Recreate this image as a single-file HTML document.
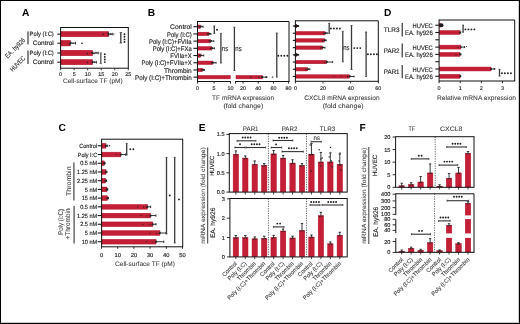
<!DOCTYPE html>
<html><head><meta charset="utf-8"><title>Figure</title>
<style>html,body{margin:0;padding:0;background:#fff;}body{width:520px;height:324px;overflow:hidden;font-family:"Liberation Sans",sans-serif;}svg{display:block;will-change:transform;}text{text-rendering:geometricPrecision;}</style>
</head><body>
<svg width="520" height="324" viewBox="0 0 520 324" font-family="Liberation Sans, sans-serif">
<rect x="0" y="0" width="520" height="324" fill="#fff"/>
<text x="22" y="16" font-size="10.2" text-anchor="start" fill="#000" font-weight="bold">A</text>
<rect x="60.85" y="31.5" width="47.6" height="5.25" fill="#c41f37" stroke="#b3142b" stroke-width="0.5"/>
<rect x="60.85" y="40.35" width="9.4" height="5.6" fill="#c41f37" stroke="#b3142b" stroke-width="0.5"/>
<rect x="60.85" y="50.25" width="31.6" height="5.5" fill="#c41f37" stroke="#b3142b" stroke-width="0.5"/>
<rect x="60.85" y="59.55" width="31.6" height="5.2" fill="#c41f37" stroke="#b3142b" stroke-width="0.5"/>
<line x1="107.7" y1="34.1" x2="112.9" y2="34.1" stroke="#222" stroke-width="0.9" stroke-linecap="butt"/>
<line x1="112.9" y1="32.8" x2="112.9" y2="35.4" stroke="#222" stroke-width="0.9" stroke-linecap="butt"/>
<line x1="108.7" y1="32.8" x2="108.7" y2="35.4" stroke="#222" stroke-width="0.9" stroke-linecap="butt"/>
<circle cx="103.1" cy="34.3" r="0.75" fill="#222"/>
<circle cx="108.2" cy="33.4" r="0.8" fill="#222"/>
<circle cx="108.6" cy="35" r="0.8" fill="#222"/>
<circle cx="110.8" cy="34.1" r="0.9" fill="#222"/>
<circle cx="113.2" cy="34.1" r="0.7" fill="#777"/>
<circle cx="114.8" cy="34.1" r="0.6" fill="#999"/>
<line x1="69.5" y1="43.2" x2="75.5" y2="43.2" stroke="#222" stroke-width="0.9" stroke-linecap="butt"/>
<line x1="75.5" y1="41.9" x2="75.5" y2="44.5" stroke="#222" stroke-width="0.9" stroke-linecap="butt"/>
<line x1="70.5" y1="41.9" x2="70.5" y2="44.5" stroke="#222" stroke-width="0.9" stroke-linecap="butt"/>
<circle cx="69.3" cy="44" r="0.8" fill="#222"/>
<circle cx="82" cy="43.4" r="0.8" fill="#222"/>
<circle cx="70.8" cy="42.4" r="0.8" fill="#222"/>
<circle cx="73" cy="43.2" r="0.7" fill="#222"/>
<line x1="91.7" y1="53" x2="98.2" y2="53" stroke="#222" stroke-width="0.9" stroke-linecap="butt"/>
<line x1="98.2" y1="51.7" x2="98.2" y2="54.3" stroke="#222" stroke-width="0.9" stroke-linecap="butt"/>
<line x1="92.7" y1="51.7" x2="92.7" y2="54.3" stroke="#222" stroke-width="0.9" stroke-linecap="butt"/>
<circle cx="94" cy="53.5" r="0.8" fill="#222"/>
<circle cx="96" cy="52.6" r="0.8" fill="#222"/>
<circle cx="87.5" cy="53.4" r="0.75" fill="#222"/>
<circle cx="92" cy="52.5" r="0.8" fill="#222"/>
<circle cx="98.2" cy="53" r="0.6" fill="#666"/>
<line x1="91.7" y1="62.2" x2="96.5" y2="62.2" stroke="#222" stroke-width="0.9" stroke-linecap="butt"/>
<line x1="96.5" y1="60.9" x2="96.5" y2="63.5" stroke="#222" stroke-width="0.9" stroke-linecap="butt"/>
<line x1="92.7" y1="60.9" x2="92.7" y2="63.5" stroke="#222" stroke-width="0.9" stroke-linecap="butt"/>
<circle cx="94.5" cy="62" r="0.8" fill="#222"/>
<circle cx="87.5" cy="62.4" r="0.75" fill="#222"/>
<circle cx="92.5" cy="61.5" r="0.8" fill="#222"/>
<circle cx="96.3" cy="62.2" r="0.6" fill="#666"/>
<rect x="60.6" y="27.5" width="67.7" height="40.7" fill="none" stroke="#111" stroke-width="1"/>
<line x1="57.3" y1="34.1" x2="60.6" y2="34.1" stroke="#1a1a1a" stroke-width="1.1" stroke-linecap="butt"/>
<line x1="57.3" y1="43.2" x2="60.6" y2="43.2" stroke="#1a1a1a" stroke-width="1.1" stroke-linecap="butt"/>
<line x1="57.3" y1="53" x2="60.6" y2="53" stroke="#1a1a1a" stroke-width="1.1" stroke-linecap="butt"/>
<line x1="57.3" y1="62.2" x2="60.6" y2="62.2" stroke="#1a1a1a" stroke-width="1.1" stroke-linecap="butt"/>
<line x1="60.6" y1="68.2" x2="60.6" y2="70.2" stroke="#1a1a1a" stroke-width="0.9" stroke-linecap="butt"/>
<text x="60.6" y="76" font-size="5.4" text-anchor="middle" fill="#231f20" stroke="#231f20" stroke-width="0.15">0</text>
<line x1="74.14" y1="68.2" x2="74.14" y2="70.2" stroke="#1a1a1a" stroke-width="0.9" stroke-linecap="butt"/>
<text x="74.14" y="76" font-size="5.4" text-anchor="middle" fill="#231f20" stroke="#231f20" stroke-width="0.15">5</text>
<line x1="87.68" y1="68.2" x2="87.68" y2="70.2" stroke="#1a1a1a" stroke-width="0.9" stroke-linecap="butt"/>
<text x="87.68" y="76" font-size="5.4" text-anchor="middle" fill="#231f20" stroke="#231f20" stroke-width="0.15">10</text>
<line x1="101.22" y1="68.2" x2="101.22" y2="70.2" stroke="#1a1a1a" stroke-width="0.9" stroke-linecap="butt"/>
<text x="101.22" y="76" font-size="5.4" text-anchor="middle" fill="#231f20" stroke="#231f20" stroke-width="0.15">15</text>
<line x1="114.76" y1="68.2" x2="114.76" y2="70.2" stroke="#1a1a1a" stroke-width="0.9" stroke-linecap="butt"/>
<text x="114.76" y="76" font-size="5.4" text-anchor="middle" fill="#231f20" stroke="#231f20" stroke-width="0.15">20</text>
<line x1="128.3" y1="68.2" x2="128.3" y2="70.2" stroke="#1a1a1a" stroke-width="0.9" stroke-linecap="butt"/>
<text x="128.3" y="76" font-size="5.4" text-anchor="middle" fill="#231f20" stroke="#231f20" stroke-width="0.15">25</text>
<text x="92.85" y="82.9" font-size="6.5" text-anchor="middle" fill="#3a3a3a" stroke="#3a3a3a" stroke-width="0.06" textLength="59.7" lengthAdjust="spacingAndGlyphs">Cell-surface TF (pM)</text>
<text x="53.8" y="36.1" font-size="6.3" text-anchor="end" fill="#231f20" stroke="#231f20" stroke-width="0.15" textLength="24.2" lengthAdjust="spacingAndGlyphs">Poly (I:C)</text>
<text x="53.8" y="45.2" font-size="6.3" text-anchor="end" fill="#231f20" stroke="#231f20" stroke-width="0.15" textLength="21" lengthAdjust="spacingAndGlyphs">Control</text>
<text x="53.8" y="55" font-size="6.3" text-anchor="end" fill="#231f20" stroke="#231f20" stroke-width="0.15" textLength="24.2" lengthAdjust="spacingAndGlyphs">Poly (I:C)</text>
<text x="53.8" y="64.2" font-size="6.3" text-anchor="end" fill="#231f20" stroke="#231f20" stroke-width="0.15" textLength="21" lengthAdjust="spacingAndGlyphs">Control</text>
<line x1="28" y1="31.5" x2="28" y2="44.5" stroke="#555" stroke-width="1.4" stroke-linecap="butt"/>
<line x1="28" y1="50.6" x2="28" y2="64" stroke="#555" stroke-width="1.4" stroke-linecap="butt"/>
<text x="25.8" y="40.6" font-size="6.8" text-anchor="end" fill="#231f20" stroke="#231f20" stroke-width="0.08" textLength="25.5" lengthAdjust="spacingAndGlyphs" transform="rotate(-45 25.8 40.6)">EA. hy926</text>
<text x="25.8" y="58.8" font-size="6.8" text-anchor="end" fill="#231f20" stroke="#231f20" stroke-width="0.08" textLength="18.5" lengthAdjust="spacingAndGlyphs" transform="rotate(-45 25.8 58.8)">HUVEC</text>
<line x1="120.8" y1="32.6" x2="120.8" y2="43" stroke="#3a3a3a" stroke-width="1.3" stroke-linecap="butt"/>
<line x1="119.6" y1="32.6" x2="122" y2="32.6" stroke="#3a3a3a" stroke-width="0.8" stroke-linecap="butt"/>
<line x1="119.6" y1="43" x2="122" y2="43" stroke="#3a3a3a" stroke-width="0.8" stroke-linecap="butt"/>
<circle cx="124.5" cy="34.2" r="0.95" fill="#222"/>
<circle cx="124.5" cy="36.8" r="0.95" fill="#222"/>
<circle cx="124.5" cy="39.4" r="0.95" fill="#222"/>
<circle cx="124.5" cy="42" r="0.95" fill="#222"/>
<line x1="100.8" y1="52.9" x2="100.8" y2="63.4" stroke="#555" stroke-width="1.3" stroke-linecap="butt"/>
<line x1="99.6" y1="52.9" x2="102" y2="52.9" stroke="#555" stroke-width="0.8" stroke-linecap="butt"/>
<line x1="99.6" y1="63.4" x2="102" y2="63.4" stroke="#555" stroke-width="0.8" stroke-linecap="butt"/>
<circle cx="104.8" cy="54.3" r="0.95" fill="#222"/>
<circle cx="104.8" cy="56.9" r="0.95" fill="#222"/>
<circle cx="104.8" cy="59.5" r="0.95" fill="#222"/>
<circle cx="104.8" cy="62.1" r="0.95" fill="#222"/>
<text x="147.8" y="16" font-size="10.2" text-anchor="start" fill="#000" font-weight="bold">B</text>
<text x="191.7" y="29.3" font-size="6.7" text-anchor="end" fill="#231f20" stroke="#231f20" stroke-width="0.15" textLength="21.6" lengthAdjust="spacingAndGlyphs">Control</text>
<text x="191.7" y="36.51" font-size="6.7" text-anchor="end" fill="#231f20" stroke="#231f20" stroke-width="0.15" textLength="24.6" lengthAdjust="spacingAndGlyphs">Poly (I:C)</text>
<text x="191.7" y="43.72" font-size="6.7" text-anchor="end" fill="#231f20" stroke="#231f20" stroke-width="0.15" textLength="42.7" lengthAdjust="spacingAndGlyphs">Poly (I:C)+FVIIa</text>
<text x="191.7" y="50.93" font-size="6.7" text-anchor="end" fill="#231f20" stroke="#231f20" stroke-width="0.15" textLength="39" lengthAdjust="spacingAndGlyphs">Poly (I:C)+FXa</text>
<text x="191.7" y="58.14" font-size="6.7" text-anchor="end" fill="#231f20" stroke="#231f20" stroke-width="0.15" textLength="21.4" lengthAdjust="spacingAndGlyphs">FVIIa+X</text>
<text x="191.7" y="65.35" font-size="6.7" text-anchor="end" fill="#231f20" stroke="#231f20" stroke-width="0.15" textLength="50.3" lengthAdjust="spacingAndGlyphs">Poly (I:C)+FVIIa+X</text>
<text x="191.7" y="72.56" font-size="6.7" text-anchor="end" fill="#231f20" stroke="#231f20" stroke-width="0.15" textLength="27.6" lengthAdjust="spacingAndGlyphs">Thrombin</text>
<text x="191.7" y="79.77" font-size="6.7" text-anchor="end" fill="#231f20" stroke="#231f20" stroke-width="0.15" textLength="56.7" lengthAdjust="spacingAndGlyphs">Poly (I:C)+Thrombin</text>
<rect x="197.75" y="25" width="2.56" height="3.4" fill="#c41f37" stroke="#b3142b" stroke-width="0.5"/>
<rect x="197.75" y="32.21" width="11.12" height="3.4" fill="#c41f37" stroke="#b3142b" stroke-width="0.5"/>
<rect x="197.75" y="39.42" width="12.76" height="3.4" fill="#c41f37" stroke="#b3142b" stroke-width="0.5"/>
<rect x="197.75" y="46.63" width="14.08" height="3.4" fill="#c41f37" stroke="#b3142b" stroke-width="0.5"/>
<rect x="197.75" y="53.84" width="2.89" height="3.4" fill="#c41f37" stroke="#b3142b" stroke-width="0.5"/>
<rect x="197.75" y="61.05" width="15.06" height="3.4" fill="#c41f37" stroke="#b3142b" stroke-width="0.5"/>
<rect x="197.75" y="68.26" width="4.86" height="3.4" fill="#c41f37" stroke="#b3142b" stroke-width="0.5"/>
<rect x="197.75" y="75.47" width="32.5" height="3.4" fill="#c41f37" stroke="#b3142b" stroke-width="0.5"/>
<rect x="236.05" y="75.47" width="26.5" height="3.4" fill="#c41f37" stroke="#b3142b" stroke-width="0.5"/>
<line x1="199.56" y1="26.7" x2="203.06" y2="26.7" stroke="#222" stroke-width="0.9" stroke-linecap="butt"/>
<line x1="203.06" y1="25.7" x2="203.06" y2="27.7" stroke="#222" stroke-width="0.9" stroke-linecap="butt"/>
<line x1="200.56" y1="25.7" x2="200.56" y2="27.7" stroke="#222" stroke-width="0.9" stroke-linecap="butt"/>
<circle cx="199.06" cy="26.7" r="0.8" fill="#222"/>
<circle cx="201.16" cy="26.4" r="0.8" fill="#222"/>
<line x1="208.12" y1="33.91" x2="210.92" y2="33.91" stroke="#222" stroke-width="0.9" stroke-linecap="butt"/>
<line x1="210.92" y1="32.91" x2="210.92" y2="34.91" stroke="#222" stroke-width="0.9" stroke-linecap="butt"/>
<line x1="209.12" y1="32.91" x2="209.12" y2="34.91" stroke="#222" stroke-width="0.9" stroke-linecap="butt"/>
<circle cx="207.62" cy="33.91" r="0.8" fill="#222"/>
<circle cx="209.72" cy="33.61" r="0.8" fill="#222"/>
<line x1="209.76" y1="41.12" x2="213.76" y2="41.12" stroke="#222" stroke-width="0.9" stroke-linecap="butt"/>
<line x1="213.76" y1="40.12" x2="213.76" y2="42.12" stroke="#222" stroke-width="0.9" stroke-linecap="butt"/>
<line x1="210.76" y1="40.12" x2="210.76" y2="42.12" stroke="#222" stroke-width="0.9" stroke-linecap="butt"/>
<circle cx="209.26" cy="41.12" r="0.8" fill="#222"/>
<circle cx="211.36" cy="40.82" r="0.8" fill="#222"/>
<line x1="211.08" y1="48.33" x2="214.58" y2="48.33" stroke="#222" stroke-width="0.9" stroke-linecap="butt"/>
<line x1="214.58" y1="47.33" x2="214.58" y2="49.33" stroke="#222" stroke-width="0.9" stroke-linecap="butt"/>
<line x1="212.08" y1="47.33" x2="212.08" y2="49.33" stroke="#222" stroke-width="0.9" stroke-linecap="butt"/>
<circle cx="210.58" cy="48.33" r="0.8" fill="#222"/>
<circle cx="212.68" cy="48.03" r="0.8" fill="#222"/>
<line x1="199.89" y1="55.54" x2="203.69" y2="55.54" stroke="#222" stroke-width="0.9" stroke-linecap="butt"/>
<line x1="203.69" y1="54.54" x2="203.69" y2="56.54" stroke="#222" stroke-width="0.9" stroke-linecap="butt"/>
<line x1="200.89" y1="54.54" x2="200.89" y2="56.54" stroke="#222" stroke-width="0.9" stroke-linecap="butt"/>
<circle cx="199.39" cy="55.54" r="0.8" fill="#222"/>
<circle cx="201.49" cy="55.24" r="0.8" fill="#222"/>
<line x1="212.06" y1="62.75" x2="216.06" y2="62.75" stroke="#222" stroke-width="0.9" stroke-linecap="butt"/>
<line x1="216.06" y1="61.75" x2="216.06" y2="63.75" stroke="#222" stroke-width="0.9" stroke-linecap="butt"/>
<line x1="213.06" y1="61.75" x2="213.06" y2="63.75" stroke="#222" stroke-width="0.9" stroke-linecap="butt"/>
<circle cx="211.56" cy="62.75" r="0.8" fill="#222"/>
<circle cx="213.66" cy="62.45" r="0.8" fill="#222"/>
<line x1="201.86" y1="69.96" x2="204.36" y2="69.96" stroke="#222" stroke-width="0.9" stroke-linecap="butt"/>
<line x1="204.36" y1="68.96" x2="204.36" y2="70.96" stroke="#222" stroke-width="0.9" stroke-linecap="butt"/>
<line x1="202.86" y1="68.96" x2="202.86" y2="70.96" stroke="#222" stroke-width="0.9" stroke-linecap="butt"/>
<circle cx="201.36" cy="69.96" r="0.8" fill="#222"/>
<circle cx="203.46" cy="69.66" r="0.8" fill="#222"/>
<line x1="261.8" y1="77.17" x2="266.8" y2="77.17" stroke="#222" stroke-width="0.9" stroke-linecap="butt"/>
<line x1="266.8" y1="76.17" x2="266.8" y2="78.17" stroke="#222" stroke-width="0.9" stroke-linecap="butt"/>
<line x1="262.8" y1="76.17" x2="262.8" y2="78.17" stroke="#222" stroke-width="0.9" stroke-linecap="butt"/>
<circle cx="250.7" cy="77.17" r="0.75" fill="#222"/>
<circle cx="258.7" cy="77.17" r="0.75" fill="#222"/>
<circle cx="261.8" cy="77.17" r="0.8" fill="#222"/>
<circle cx="266" cy="77.17" r="0.8" fill="#222"/>
<line x1="271.5" y1="77.17" x2="273.5" y2="77.17" stroke="#444" stroke-width="0.6" stroke-linecap="butt"/>
<line x1="272.5" y1="76.17" x2="272.5" y2="78.17" stroke="#444" stroke-width="0.6" stroke-linecap="butt"/>
<line x1="197.5" y1="21.5" x2="289" y2="21.5" stroke="#111" stroke-width="1" stroke-linecap="butt"/>
<line x1="289" y1="21.5" x2="289" y2="81.5" stroke="#111" stroke-width="1" stroke-linecap="butt"/>
<line x1="197.5" y1="21" x2="197.5" y2="82" stroke="#111" stroke-width="1" stroke-linecap="butt"/>
<line x1="197.5" y1="81.5" x2="230.8" y2="81.5" stroke="#111" stroke-width="1" stroke-linecap="butt"/>
<line x1="235.3" y1="81.5" x2="289.5" y2="81.5" stroke="#111" stroke-width="1" stroke-linecap="butt"/>
<line x1="193.4" y1="26.7" x2="197.5" y2="26.7" stroke="#1a1a1a" stroke-width="1.1" stroke-linecap="butt"/>
<line x1="193.4" y1="33.91" x2="197.5" y2="33.91" stroke="#1a1a1a" stroke-width="1.1" stroke-linecap="butt"/>
<line x1="193.4" y1="41.12" x2="197.5" y2="41.12" stroke="#1a1a1a" stroke-width="1.1" stroke-linecap="butt"/>
<line x1="193.4" y1="48.33" x2="197.5" y2="48.33" stroke="#1a1a1a" stroke-width="1.1" stroke-linecap="butt"/>
<line x1="193.4" y1="55.54" x2="197.5" y2="55.54" stroke="#1a1a1a" stroke-width="1.1" stroke-linecap="butt"/>
<line x1="193.4" y1="62.75" x2="197.5" y2="62.75" stroke="#1a1a1a" stroke-width="1.1" stroke-linecap="butt"/>
<line x1="193.4" y1="69.96" x2="197.5" y2="69.96" stroke="#1a1a1a" stroke-width="1.1" stroke-linecap="butt"/>
<line x1="193.4" y1="77.17" x2="197.5" y2="77.17" stroke="#1a1a1a" stroke-width="1.1" stroke-linecap="butt"/>
<line x1="197.6" y1="81.5" x2="197.6" y2="83.6" stroke="#1a1a1a" stroke-width="0.9" stroke-linecap="butt"/>
<text x="197.6" y="89.9" font-size="5.4" text-anchor="middle" fill="#231f20" stroke="#231f20" stroke-width="0.15">0</text>
<line x1="214.05" y1="81.5" x2="214.05" y2="83.6" stroke="#1a1a1a" stroke-width="0.9" stroke-linecap="butt"/>
<text x="214.05" y="89.9" font-size="5.4" text-anchor="middle" fill="#231f20" stroke="#231f20" stroke-width="0.15">5</text>
<line x1="230.5" y1="81.5" x2="230.5" y2="83.6" stroke="#1a1a1a" stroke-width="0.9" stroke-linecap="butt"/>
<text x="230.5" y="89.9" font-size="5.4" text-anchor="middle" fill="#231f20" stroke="#231f20" stroke-width="0.15">10</text>
<line x1="235.5" y1="81.5" x2="235.5" y2="83.6" stroke="#1a1a1a" stroke-width="0.9" stroke-linecap="butt"/>
<line x1="243.09" y1="81.5" x2="243.09" y2="83.6" stroke="#1a1a1a" stroke-width="0.9" stroke-linecap="butt"/>
<text x="243.09" y="89.9" font-size="5.4" text-anchor="middle" fill="#231f20" stroke="#231f20" stroke-width="0.15">20</text>
<line x1="258.26" y1="81.5" x2="258.26" y2="83.6" stroke="#1a1a1a" stroke-width="0.9" stroke-linecap="butt"/>
<text x="258.26" y="89.9" font-size="5.4" text-anchor="middle" fill="#231f20" stroke="#231f20" stroke-width="0.15">40</text>
<line x1="273.43" y1="81.5" x2="273.43" y2="83.6" stroke="#1a1a1a" stroke-width="0.9" stroke-linecap="butt"/>
<text x="273.43" y="89.9" font-size="5.4" text-anchor="middle" fill="#231f20" stroke="#231f20" stroke-width="0.15">60</text>
<line x1="288.6" y1="81.5" x2="288.6" y2="83.6" stroke="#1a1a1a" stroke-width="0.9" stroke-linecap="butt"/>
<text x="288.6" y="89.9" font-size="5.4" text-anchor="middle" fill="#231f20" stroke="#231f20" stroke-width="0.15">80</text>
<text x="243.1" y="100.2" font-size="6.6" text-anchor="middle" fill="#3a3a3a" stroke="#3a3a3a" stroke-width="0.06" textLength="62" lengthAdjust="spacingAndGlyphs">TF mRNA expression</text>
<text x="243.3" y="107.8" font-size="6.6" text-anchor="middle" fill="#3a3a3a" stroke="#3a3a3a" stroke-width="0.06" textLength="39.8" lengthAdjust="spacingAndGlyphs">(fold change)</text>
<line x1="214.3" y1="26" x2="214.3" y2="33.4" stroke="#3a3a3a" stroke-width="1.3" stroke-linecap="butt"/>
<line x1="213.3" y1="26" x2="215.3" y2="26" stroke="#3a3a3a" stroke-width="0.8" stroke-linecap="butt"/>
<line x1="213.3" y1="33.4" x2="215.3" y2="33.4" stroke="#3a3a3a" stroke-width="0.8" stroke-linecap="butt"/>
<circle cx="217" cy="29.7" r="1" fill="#222"/>
<line x1="220.9" y1="33.4" x2="220.9" y2="63" stroke="#3a3a3a" stroke-width="1.3" stroke-linecap="butt"/>
<line x1="219.9" y1="33.4" x2="221.9" y2="33.4" stroke="#3a3a3a" stroke-width="0.8" stroke-linecap="butt"/>
<line x1="219.9" y1="63" x2="221.9" y2="63" stroke="#3a3a3a" stroke-width="0.8" stroke-linecap="butt"/>
<text x="221.8" y="50.8" font-size="7.4" text-anchor="start" fill="#231f20" stroke="#231f20" stroke-width="0.1" textLength="6.4" lengthAdjust="spacingAndGlyphs">ns</text>
<line x1="234.4" y1="27.2" x2="234.4" y2="70.5" stroke="#3a3a3a" stroke-width="1.3" stroke-linecap="butt"/>
<line x1="233.4" y1="27.2" x2="235.4" y2="27.2" stroke="#3a3a3a" stroke-width="0.8" stroke-linecap="butt"/>
<line x1="233.4" y1="70.5" x2="235.4" y2="70.5" stroke="#3a3a3a" stroke-width="0.8" stroke-linecap="butt"/>
<text x="235.3" y="50.8" font-size="7.4" text-anchor="start" fill="#231f20" stroke="#231f20" stroke-width="0.1" textLength="6.4" lengthAdjust="spacingAndGlyphs">ns</text>
<line x1="276.8" y1="33" x2="276.8" y2="77.1" stroke="#3a3a3a" stroke-width="1.3" stroke-linecap="butt"/>
<line x1="275.8" y1="33" x2="277.8" y2="33" stroke="#3a3a3a" stroke-width="0.8" stroke-linecap="butt"/>
<line x1="275.8" y1="77.1" x2="277.8" y2="77.1" stroke="#3a3a3a" stroke-width="0.8" stroke-linecap="butt"/>
<circle cx="278.3" cy="55.8" r="0.95" fill="#222"/>
<circle cx="281.3" cy="55.8" r="0.95" fill="#222"/>
<circle cx="284.3" cy="55.8" r="0.95" fill="#222"/>
<circle cx="287.3" cy="55.8" r="0.95" fill="#222"/>
<rect x="295.65" y="24.3" width="0.88" height="3.4" fill="#c41f37" stroke="#b3142b" stroke-width="0.5"/>
<rect x="295.65" y="31.51" width="29.34" height="3.4" fill="#c41f37" stroke="#b3142b" stroke-width="0.5"/>
<rect x="295.65" y="38.72" width="28.65" height="3.4" fill="#c41f37" stroke="#b3142b" stroke-width="0.5"/>
<rect x="295.65" y="45.93" width="26.58" height="3.4" fill="#c41f37" stroke="#b3142b" stroke-width="0.5"/>
<rect x="295.65" y="53.14" width="0.74" height="3.4" fill="#c41f37" stroke="#b3142b" stroke-width="0.5"/>
<rect x="295.65" y="60.35" width="30.73" height="3.4" fill="#c41f37" stroke="#b3142b" stroke-width="0.5"/>
<rect x="295.65" y="67.56" width="11.94" height="3.4" fill="#c41f37" stroke="#b3142b" stroke-width="0.5"/>
<rect x="295.65" y="74.77" width="53.66" height="3.4" fill="#c41f37" stroke="#b3142b" stroke-width="0.5"/>
<line x1="295.78" y1="26" x2="298.58" y2="26" stroke="#222" stroke-width="0.9" stroke-linecap="butt"/>
<line x1="298.58" y1="25" x2="298.58" y2="27" stroke="#222" stroke-width="0.9" stroke-linecap="butt"/>
<line x1="296.78" y1="25" x2="296.78" y2="27" stroke="#222" stroke-width="0.9" stroke-linecap="butt"/>
<circle cx="294.78" cy="26.3" r="0.7" fill="#222"/>
<circle cx="297.38" cy="25.7" r="0.8" fill="#222"/>
<line x1="324.24" y1="33.21" x2="327.24" y2="33.21" stroke="#222" stroke-width="0.9" stroke-linecap="butt"/>
<line x1="327.24" y1="32.21" x2="327.24" y2="34.21" stroke="#222" stroke-width="0.9" stroke-linecap="butt"/>
<line x1="325.24" y1="32.21" x2="325.24" y2="34.21" stroke="#222" stroke-width="0.9" stroke-linecap="butt"/>
<circle cx="323.24" cy="33.51" r="0.7" fill="#222"/>
<circle cx="325.84" cy="32.91" r="0.8" fill="#222"/>
<line x1="323.55" y1="40.42" x2="326.15" y2="40.42" stroke="#222" stroke-width="0.9" stroke-linecap="butt"/>
<line x1="326.15" y1="39.42" x2="326.15" y2="41.42" stroke="#222" stroke-width="0.9" stroke-linecap="butt"/>
<line x1="324.55" y1="39.42" x2="324.55" y2="41.42" stroke="#222" stroke-width="0.9" stroke-linecap="butt"/>
<circle cx="322.55" cy="40.72" r="0.7" fill="#222"/>
<circle cx="325.15" cy="40.12" r="0.8" fill="#222"/>
<line x1="321.48" y1="47.63" x2="324.98" y2="47.63" stroke="#222" stroke-width="0.9" stroke-linecap="butt"/>
<line x1="324.98" y1="46.63" x2="324.98" y2="48.63" stroke="#222" stroke-width="0.9" stroke-linecap="butt"/>
<line x1="322.48" y1="46.63" x2="322.48" y2="48.63" stroke="#222" stroke-width="0.9" stroke-linecap="butt"/>
<circle cx="320.48" cy="47.93" r="0.7" fill="#222"/>
<circle cx="323.08" cy="47.33" r="0.8" fill="#222"/>
<line x1="295.64" y1="54.84" x2="298.64" y2="54.84" stroke="#222" stroke-width="0.9" stroke-linecap="butt"/>
<line x1="298.64" y1="53.84" x2="298.64" y2="55.84" stroke="#222" stroke-width="0.9" stroke-linecap="butt"/>
<line x1="296.64" y1="53.84" x2="296.64" y2="55.84" stroke="#222" stroke-width="0.9" stroke-linecap="butt"/>
<circle cx="294.64" cy="55.14" r="0.7" fill="#222"/>
<circle cx="297.24" cy="54.54" r="0.8" fill="#222"/>
<line x1="325.63" y1="62.05" x2="332.63" y2="62.05" stroke="#222" stroke-width="0.9" stroke-linecap="butt"/>
<line x1="332.63" y1="61.05" x2="332.63" y2="63.05" stroke="#222" stroke-width="0.9" stroke-linecap="butt"/>
<line x1="326.63" y1="61.05" x2="326.63" y2="63.05" stroke="#222" stroke-width="0.9" stroke-linecap="butt"/>
<circle cx="324.63" cy="62.35" r="0.7" fill="#222"/>
<circle cx="327.23" cy="61.75" r="0.8" fill="#222"/>
<line x1="306.83" y1="69.26" x2="309.83" y2="69.26" stroke="#222" stroke-width="0.9" stroke-linecap="butt"/>
<line x1="309.83" y1="68.26" x2="309.83" y2="70.26" stroke="#222" stroke-width="0.9" stroke-linecap="butt"/>
<line x1="307.83" y1="68.26" x2="307.83" y2="70.26" stroke="#222" stroke-width="0.9" stroke-linecap="butt"/>
<circle cx="305.83" cy="69.56" r="0.7" fill="#222"/>
<circle cx="308.44" cy="68.96" r="0.8" fill="#222"/>
<line x1="348.56" y1="76.47" x2="354.06" y2="76.47" stroke="#222" stroke-width="0.9" stroke-linecap="butt"/>
<line x1="354.06" y1="75.47" x2="354.06" y2="77.47" stroke="#222" stroke-width="0.9" stroke-linecap="butt"/>
<line x1="349.56" y1="75.47" x2="349.56" y2="77.47" stroke="#222" stroke-width="0.9" stroke-linecap="butt"/>
<circle cx="347.56" cy="76.77" r="0.7" fill="#222"/>
<circle cx="350.16" cy="76.17" r="0.8" fill="#222"/>
<circle cx="334.09" cy="76.47" r="0.55" fill="#222"/>
<circle cx="341" cy="76.47" r="0.55" fill="#222"/>
<path d="M295.6 24.1 l3.6 1.9 l-3.6 1.9z" fill="#1a1a1a"/>
<path d="M295.6 53.04 l3.2 1.8 l-3.2 1.8z" fill="#1a1a1a"/>
<line x1="295.4" y1="20.8" x2="378.3" y2="20.8" stroke="#111" stroke-width="1" stroke-linecap="butt"/>
<line x1="378.3" y1="20.8" x2="378.3" y2="81.3" stroke="#111" stroke-width="1" stroke-linecap="butt"/>
<line x1="295.4" y1="20.3" x2="295.4" y2="81.8" stroke="#111" stroke-width="1" stroke-linecap="butt"/>
<line x1="295.4" y1="81.3" x2="378.8" y2="81.3" stroke="#111" stroke-width="1" stroke-linecap="butt"/>
<line x1="292.8" y1="26" x2="295.4" y2="26" stroke="#1a1a1a" stroke-width="1.1" stroke-linecap="butt"/>
<line x1="292.8" y1="33.21" x2="295.4" y2="33.21" stroke="#1a1a1a" stroke-width="1.1" stroke-linecap="butt"/>
<line x1="292.8" y1="40.42" x2="295.4" y2="40.42" stroke="#1a1a1a" stroke-width="1.1" stroke-linecap="butt"/>
<line x1="292.8" y1="47.63" x2="295.4" y2="47.63" stroke="#1a1a1a" stroke-width="1.1" stroke-linecap="butt"/>
<line x1="292.8" y1="54.84" x2="295.4" y2="54.84" stroke="#1a1a1a" stroke-width="1.1" stroke-linecap="butt"/>
<line x1="292.8" y1="62.05" x2="295.4" y2="62.05" stroke="#1a1a1a" stroke-width="1.1" stroke-linecap="butt"/>
<line x1="292.8" y1="69.26" x2="295.4" y2="69.26" stroke="#1a1a1a" stroke-width="1.1" stroke-linecap="butt"/>
<line x1="292.8" y1="76.47" x2="295.4" y2="76.47" stroke="#1a1a1a" stroke-width="1.1" stroke-linecap="butt"/>
<line x1="295.4" y1="81.3" x2="295.4" y2="83.4" stroke="#1a1a1a" stroke-width="0.9" stroke-linecap="butt"/>
<text x="295.4" y="89.9" font-size="5.4" text-anchor="middle" fill="#231f20" stroke="#231f20" stroke-width="0.15">0</text>
<line x1="323.03" y1="81.3" x2="323.03" y2="83.4" stroke="#1a1a1a" stroke-width="0.9" stroke-linecap="butt"/>
<text x="323.03" y="89.9" font-size="5.4" text-anchor="middle" fill="#231f20" stroke="#231f20" stroke-width="0.15">20</text>
<line x1="350.67" y1="81.3" x2="350.67" y2="83.4" stroke="#1a1a1a" stroke-width="0.9" stroke-linecap="butt"/>
<text x="350.67" y="89.9" font-size="5.4" text-anchor="middle" fill="#231f20" stroke="#231f20" stroke-width="0.15">40</text>
<line x1="378.3" y1="81.3" x2="378.3" y2="83.4" stroke="#1a1a1a" stroke-width="0.9" stroke-linecap="butt"/>
<text x="378.3" y="89.9" font-size="5.4" text-anchor="middle" fill="#231f20" stroke="#231f20" stroke-width="0.15">60</text>
<text x="341.9" y="99.8" font-size="6.6" text-anchor="middle" fill="#3a3a3a" stroke="#3a3a3a" stroke-width="0.06" textLength="75.4" lengthAdjust="spacingAndGlyphs">CXCL8 mRNA expression</text>
<text x="343.15" y="107.8" font-size="6.6" text-anchor="middle" fill="#3a3a3a" stroke="#3a3a3a" stroke-width="0.06" textLength="41" lengthAdjust="spacingAndGlyphs">(fold change)</text>
<line x1="329.2" y1="23.3" x2="329.2" y2="33.3" stroke="#3a3a3a" stroke-width="1.3" stroke-linecap="butt"/>
<line x1="328.2" y1="23.3" x2="330.2" y2="23.3" stroke="#3a3a3a" stroke-width="0.8" stroke-linecap="butt"/>
<line x1="328.2" y1="33.3" x2="330.2" y2="33.3" stroke="#3a3a3a" stroke-width="0.8" stroke-linecap="butt"/>
<circle cx="330.9" cy="28.5" r="0.95" fill="#222"/>
<circle cx="333.9" cy="28.5" r="0.95" fill="#222"/>
<circle cx="336.9" cy="28.5" r="0.95" fill="#222"/>
<circle cx="339.9" cy="28.5" r="0.95" fill="#222"/>
<line x1="342.8" y1="31.4" x2="342.8" y2="61.8" stroke="#3a3a3a" stroke-width="1.3" stroke-linecap="butt"/>
<line x1="341.8" y1="31.4" x2="343.8" y2="31.4" stroke="#3a3a3a" stroke-width="0.8" stroke-linecap="butt"/>
<line x1="341.8" y1="61.8" x2="343.8" y2="61.8" stroke="#3a3a3a" stroke-width="0.8" stroke-linecap="butt"/>
<text x="343.3" y="49.8" font-size="7.4" text-anchor="start" fill="#231f20" stroke="#231f20" stroke-width="0.1" textLength="6.3" lengthAdjust="spacingAndGlyphs">ns</text>
<line x1="351.5" y1="25.5" x2="351.5" y2="69.5" stroke="#3a3a3a" stroke-width="1.3" stroke-linecap="butt"/>
<line x1="350.5" y1="25.5" x2="352.5" y2="25.5" stroke="#3a3a3a" stroke-width="0.8" stroke-linecap="butt"/>
<line x1="350.5" y1="69.5" x2="352.5" y2="69.5" stroke="#3a3a3a" stroke-width="0.8" stroke-linecap="butt"/>
<circle cx="354.3" cy="48.1" r="0.95" fill="#222"/>
<circle cx="357.3" cy="48.1" r="0.95" fill="#222"/>
<circle cx="360.3" cy="48.1" r="0.95" fill="#222"/>
<line x1="366.1" y1="32" x2="366.1" y2="76.5" stroke="#3a3a3a" stroke-width="1.3" stroke-linecap="butt"/>
<line x1="365.1" y1="32" x2="367.1" y2="32" stroke="#3a3a3a" stroke-width="0.8" stroke-linecap="butt"/>
<line x1="365.1" y1="76.5" x2="367.1" y2="76.5" stroke="#3a3a3a" stroke-width="0.8" stroke-linecap="butt"/>
<circle cx="367.9" cy="54.3" r="0.95" fill="#222"/>
<circle cx="370.9" cy="54.3" r="0.95" fill="#222"/>
<circle cx="373.9" cy="54.3" r="0.95" fill="#222"/>
<circle cx="376.9" cy="54.3" r="0.95" fill="#222"/>
<text x="384" y="15.6" font-size="10.2" text-anchor="start" fill="#000" font-weight="bold">D</text>
<rect x="439.35" y="23.25" width="1.19" height="3.9" fill="#c41f37" stroke="#b3142b" stroke-width="0.5"/>
<rect x="439.35" y="30.55" width="20.63" height="3.9" fill="#c41f37" stroke="#b3142b" stroke-width="0.5"/>
<rect x="439.35" y="45.15" width="21.48" height="3.9" fill="#c41f37" stroke="#b3142b" stroke-width="0.5"/>
<rect x="439.35" y="52.45" width="20.63" height="3.9" fill="#c41f37" stroke="#b3142b" stroke-width="0.5"/>
<rect x="439.35" y="67.05" width="51.69" height="3.9" fill="#c41f37" stroke="#b3142b" stroke-width="0.5"/>
<rect x="439.35" y="74.35" width="20.63" height="3.9" fill="#c41f37" stroke="#b3142b" stroke-width="0.5"/>
<line x1="439.79" y1="25.2" x2="441.79" y2="25.2" stroke="#222" stroke-width="0.9" stroke-linecap="butt"/>
<line x1="441.79" y1="24.2" x2="441.79" y2="26.2" stroke="#222" stroke-width="0.9" stroke-linecap="butt"/>
<line x1="440.79" y1="24.2" x2="440.79" y2="26.2" stroke="#222" stroke-width="0.9" stroke-linecap="butt"/>
<ellipse cx="441.4" cy="25.2" rx="2.1" ry="2.0" fill="#1a1a1a"/>
<line x1="459.23" y1="32.5" x2="460.73" y2="32.5" stroke="#222" stroke-width="0.9" stroke-linecap="butt"/>
<line x1="460.73" y1="31.5" x2="460.73" y2="33.5" stroke="#222" stroke-width="0.9" stroke-linecap="butt"/>
<line x1="460.23" y1="31.5" x2="460.23" y2="33.5" stroke="#222" stroke-width="0.9" stroke-linecap="butt"/>
<circle cx="459.73" cy="32.5" r="0.8" fill="#222"/>
<line x1="460.08" y1="47.1" x2="464.58" y2="47.1" stroke="#222" stroke-width="0.9" stroke-linecap="butt"/>
<line x1="464.58" y1="46.1" x2="464.58" y2="48.1" stroke="#222" stroke-width="0.9" stroke-linecap="butt"/>
<line x1="461.08" y1="46.1" x2="461.08" y2="48.1" stroke="#222" stroke-width="0.9" stroke-linecap="butt"/>
<circle cx="464.46" cy="47.1" r="0.6" fill="#222"/>
<circle cx="466.57" cy="46.6" r="0.6" fill="#222"/>
<circle cx="458.12" cy="47.5" r="0.6" fill="#222"/>
<line x1="459.23" y1="54.4" x2="461.03" y2="54.4" stroke="#222" stroke-width="0.9" stroke-linecap="butt"/>
<line x1="461.03" y1="53.4" x2="461.03" y2="55.4" stroke="#222" stroke-width="0.9" stroke-linecap="butt"/>
<line x1="460.23" y1="53.4" x2="460.23" y2="55.4" stroke="#222" stroke-width="0.9" stroke-linecap="butt"/>
<circle cx="456" cy="54.9" r="0.6" fill="#222"/>
<circle cx="460.23" cy="54.4" r="0.8" fill="#222"/>
<line x1="490.29" y1="69" x2="494.79" y2="69" stroke="#222" stroke-width="0.9" stroke-linecap="butt"/>
<line x1="494.79" y1="68" x2="494.79" y2="70" stroke="#222" stroke-width="0.9" stroke-linecap="butt"/>
<line x1="491.29" y1="68" x2="491.29" y2="70" stroke="#222" stroke-width="0.9" stroke-linecap="butt"/>
<circle cx="491.29" cy="69" r="0.8" fill="#222"/>
<circle cx="494.04" cy="68.5" r="0.6" fill="#222"/>
<line x1="459.23" y1="76.3" x2="460.73" y2="76.3" stroke="#222" stroke-width="0.9" stroke-linecap="butt"/>
<line x1="460.73" y1="75.3" x2="460.73" y2="77.3" stroke="#222" stroke-width="0.9" stroke-linecap="butt"/>
<line x1="460.23" y1="75.3" x2="460.23" y2="77.3" stroke="#222" stroke-width="0.9" stroke-linecap="butt"/>
<circle cx="460.23" cy="76.3" r="0.8" fill="#222"/>
<line x1="439.1" y1="20" x2="514.7" y2="20" stroke="#111" stroke-width="1" stroke-linecap="butt"/>
<line x1="514.7" y1="20" x2="514.7" y2="81" stroke="#111" stroke-width="1" stroke-linecap="butt"/>
<line x1="439.1" y1="19.5" x2="439.1" y2="81.5" stroke="#111" stroke-width="1" stroke-linecap="butt"/>
<line x1="439.1" y1="81" x2="515.2" y2="81" stroke="#111" stroke-width="1" stroke-linecap="butt"/>
<line x1="435.3" y1="25.2" x2="439.1" y2="25.2" stroke="#1a1a1a" stroke-width="1.1" stroke-linecap="butt"/>
<line x1="435.3" y1="32.5" x2="439.1" y2="32.5" stroke="#1a1a1a" stroke-width="1.1" stroke-linecap="butt"/>
<line x1="435.3" y1="39.8" x2="439.1" y2="39.8" stroke="#1a1a1a" stroke-width="1.1" stroke-linecap="butt"/>
<line x1="435.3" y1="47.1" x2="439.1" y2="47.1" stroke="#1a1a1a" stroke-width="1.1" stroke-linecap="butt"/>
<line x1="435.3" y1="54.4" x2="439.1" y2="54.4" stroke="#1a1a1a" stroke-width="1.1" stroke-linecap="butt"/>
<line x1="435.3" y1="61.7" x2="439.1" y2="61.7" stroke="#1a1a1a" stroke-width="1.1" stroke-linecap="butt"/>
<line x1="435.3" y1="69" x2="439.1" y2="69" stroke="#1a1a1a" stroke-width="1.1" stroke-linecap="butt"/>
<line x1="435.3" y1="76.3" x2="439.1" y2="76.3" stroke="#1a1a1a" stroke-width="1.1" stroke-linecap="butt"/>
<line x1="439.1" y1="81" x2="439.1" y2="83.2" stroke="#1a1a1a" stroke-width="0.9" stroke-linecap="butt"/>
<text x="439.1" y="89.9" font-size="5.4" text-anchor="middle" fill="#231f20" stroke="#231f20" stroke-width="0.15">0</text>
<line x1="460.23" y1="81" x2="460.23" y2="83.2" stroke="#1a1a1a" stroke-width="0.9" stroke-linecap="butt"/>
<text x="460.23" y="89.9" font-size="5.4" text-anchor="middle" fill="#231f20" stroke="#231f20" stroke-width="0.15">1</text>
<line x1="481.36" y1="81" x2="481.36" y2="83.2" stroke="#1a1a1a" stroke-width="0.9" stroke-linecap="butt"/>
<text x="481.36" y="89.9" font-size="5.4" text-anchor="middle" fill="#231f20" stroke="#231f20" stroke-width="0.15">2</text>
<line x1="502.49" y1="81" x2="502.49" y2="83.2" stroke="#1a1a1a" stroke-width="0.9" stroke-linecap="butt"/>
<text x="502.49" y="89.9" font-size="5.4" text-anchor="middle" fill="#231f20" stroke="#231f20" stroke-width="0.15">3</text>
<text x="476.45" y="99.8" font-size="6.6" text-anchor="middle" fill="#3a3a3a" stroke="#3a3a3a" stroke-width="0.06" textLength="79" lengthAdjust="spacingAndGlyphs">Relative mRNA expression</text>
<text x="432.8" y="28" font-size="6.5" text-anchor="end" fill="#231f20" stroke="#231f20" stroke-width="0.15" textLength="20.2" lengthAdjust="spacingAndGlyphs">HUVEC</text>
<text x="432.8" y="35.3" font-size="6.5" text-anchor="end" fill="#231f20" stroke="#231f20" stroke-width="0.15" textLength="27.8" lengthAdjust="spacingAndGlyphs">EA. hy926</text>
<text x="432.8" y="49.9" font-size="6.5" text-anchor="end" fill="#231f20" stroke="#231f20" stroke-width="0.15" textLength="20.2" lengthAdjust="spacingAndGlyphs">HUVEC</text>
<text x="432.8" y="57.2" font-size="6.5" text-anchor="end" fill="#231f20" stroke="#231f20" stroke-width="0.15" textLength="27.8" lengthAdjust="spacingAndGlyphs">EA. hy926</text>
<text x="432.8" y="71.8" font-size="6.5" text-anchor="end" fill="#231f20" stroke="#231f20" stroke-width="0.15" textLength="20.2" lengthAdjust="spacingAndGlyphs">HUVEC</text>
<text x="432.8" y="79.1" font-size="6.5" text-anchor="end" fill="#231f20" stroke="#231f20" stroke-width="0.15" textLength="27.8" lengthAdjust="spacingAndGlyphs">EA. hy926</text>
<text x="399.6" y="31.9" font-size="6.6" text-anchor="end" fill="#231f20" stroke="#231f20" stroke-width="0.15" textLength="15.8" lengthAdjust="spacingAndGlyphs">TLR3</text>
<text x="399.6" y="53.3" font-size="6.6" text-anchor="end" fill="#231f20" stroke="#231f20" stroke-width="0.15" textLength="15.8" lengthAdjust="spacingAndGlyphs">PAR2</text>
<text x="399.6" y="74.4" font-size="6.6" text-anchor="end" fill="#231f20" stroke="#231f20" stroke-width="0.15" textLength="15.8" lengthAdjust="spacingAndGlyphs">PAR1</text>
<line x1="402.2" y1="22.9" x2="402.2" y2="36.4" stroke="#222" stroke-width="1.1" stroke-linecap="butt"/>
<line x1="402.2" y1="43.6" x2="402.2" y2="57.4" stroke="#222" stroke-width="1.1" stroke-linecap="butt"/>
<line x1="402.2" y1="65" x2="402.2" y2="78.3" stroke="#222" stroke-width="1.1" stroke-linecap="butt"/>
<line x1="463.1" y1="25.1" x2="463.1" y2="32.2" stroke="#3a3a3a" stroke-width="1.3" stroke-linecap="butt"/>
<line x1="462.1" y1="25.1" x2="464.1" y2="25.1" stroke="#3a3a3a" stroke-width="0.8" stroke-linecap="butt"/>
<line x1="462.1" y1="32.2" x2="464.1" y2="32.2" stroke="#3a3a3a" stroke-width="0.8" stroke-linecap="butt"/>
<circle cx="465.4" cy="29.4" r="0.95" fill="#222"/>
<circle cx="468.4" cy="29.4" r="0.95" fill="#222"/>
<circle cx="471.4" cy="29.4" r="0.95" fill="#222"/>
<circle cx="474.4" cy="29.4" r="0.95" fill="#222"/>
<line x1="499.5" y1="69.3" x2="499.5" y2="76.1" stroke="#3a3a3a" stroke-width="1.3" stroke-linecap="butt"/>
<line x1="498.5" y1="69.3" x2="500.5" y2="69.3" stroke="#3a3a3a" stroke-width="0.8" stroke-linecap="butt"/>
<line x1="498.5" y1="76.1" x2="500.5" y2="76.1" stroke="#3a3a3a" stroke-width="0.8" stroke-linecap="butt"/>
<circle cx="501.9" cy="73.2" r="0.95" fill="#222"/>
<circle cx="504.9" cy="73.2" r="0.95" fill="#222"/>
<circle cx="507.9" cy="73.2" r="0.95" fill="#222"/>
<circle cx="510.9" cy="73.2" r="0.95" fill="#222"/>
<text x="58.5" y="131.1" font-size="10.2" text-anchor="start" fill="#000" font-weight="bold">C</text>
<rect x="101.85" y="143.45" width="4.1" height="4.7" fill="#c41f37" stroke="#b3142b" stroke-width="0.5"/>
<rect x="101.85" y="152.17" width="19" height="4.7" fill="#c41f37" stroke="#b3142b" stroke-width="0.5"/>
<rect x="101.85" y="160.89" width="2.48" height="4.7" fill="#c41f37" stroke="#b3142b" stroke-width="0.5"/>
<rect x="101.85" y="169.61" width="4.1" height="4.7" fill="#c41f37" stroke="#b3142b" stroke-width="0.5"/>
<rect x="101.85" y="178.33" width="3.77" height="4.7" fill="#c41f37" stroke="#b3142b" stroke-width="0.5"/>
<rect x="101.85" y="187.05" width="5.07" height="4.7" fill="#c41f37" stroke="#b3142b" stroke-width="0.5"/>
<rect x="101.85" y="195.77" width="5.72" height="4.7" fill="#c41f37" stroke="#b3142b" stroke-width="0.5"/>
<rect x="101.85" y="204.49" width="45.57" height="4.7" fill="#c41f37" stroke="#b3142b" stroke-width="0.5"/>
<rect x="101.85" y="213.21" width="48.81" height="4.7" fill="#c41f37" stroke="#b3142b" stroke-width="0.5"/>
<rect x="101.85" y="221.93" width="50.92" height="4.7" fill="#c41f37" stroke="#b3142b" stroke-width="0.5"/>
<rect x="101.85" y="230.65" width="58.04" height="4.7" fill="#c41f37" stroke="#b3142b" stroke-width="0.5"/>
<rect x="101.85" y="239.37" width="54.16" height="4.7" fill="#c41f37" stroke="#b3142b" stroke-width="0.5"/>
<line x1="105.2" y1="145.8" x2="107.7" y2="145.8" stroke="#222" stroke-width="0.9" stroke-linecap="butt"/>
<line x1="107.7" y1="144.6" x2="107.7" y2="147" stroke="#222" stroke-width="0.9" stroke-linecap="butt"/>
<line x1="106.2" y1="144.6" x2="106.2" y2="147" stroke="#222" stroke-width="0.9" stroke-linecap="butt"/>
<circle cx="105.4" cy="146.1" r="0.8" fill="#222"/>
<line x1="120.1" y1="154.52" x2="125.6" y2="154.52" stroke="#222" stroke-width="0.9" stroke-linecap="butt"/>
<line x1="125.6" y1="153.32" x2="125.6" y2="155.72" stroke="#222" stroke-width="0.9" stroke-linecap="butt"/>
<line x1="121.1" y1="153.32" x2="121.1" y2="155.72" stroke="#222" stroke-width="0.9" stroke-linecap="butt"/>
<circle cx="120.3" cy="154.82" r="0.8" fill="#222"/>
<line x1="103.58" y1="163.24" x2="105.08" y2="163.24" stroke="#222" stroke-width="0.9" stroke-linecap="butt"/>
<line x1="105.08" y1="162.04" x2="105.08" y2="164.44" stroke="#222" stroke-width="0.9" stroke-linecap="butt"/>
<line x1="104.58" y1="162.04" x2="104.58" y2="164.44" stroke="#222" stroke-width="0.9" stroke-linecap="butt"/>
<circle cx="103.78" cy="163.54" r="0.8" fill="#222"/>
<line x1="105.2" y1="171.96" x2="107" y2="171.96" stroke="#222" stroke-width="0.9" stroke-linecap="butt"/>
<line x1="107" y1="170.76" x2="107" y2="173.16" stroke="#222" stroke-width="0.9" stroke-linecap="butt"/>
<line x1="106.2" y1="170.76" x2="106.2" y2="173.16" stroke="#222" stroke-width="0.9" stroke-linecap="butt"/>
<circle cx="105.4" cy="172.26" r="0.8" fill="#222"/>
<line x1="104.87" y1="180.68" x2="106.37" y2="180.68" stroke="#222" stroke-width="0.9" stroke-linecap="butt"/>
<line x1="106.37" y1="179.48" x2="106.37" y2="181.88" stroke="#222" stroke-width="0.9" stroke-linecap="butt"/>
<line x1="105.87" y1="179.48" x2="105.87" y2="181.88" stroke="#222" stroke-width="0.9" stroke-linecap="butt"/>
<circle cx="105.07" cy="180.98" r="0.8" fill="#222"/>
<line x1="106.17" y1="189.4" x2="107.77" y2="189.4" stroke="#222" stroke-width="0.9" stroke-linecap="butt"/>
<line x1="107.77" y1="188.2" x2="107.77" y2="190.6" stroke="#222" stroke-width="0.9" stroke-linecap="butt"/>
<line x1="107.17" y1="188.2" x2="107.17" y2="190.6" stroke="#222" stroke-width="0.9" stroke-linecap="butt"/>
<circle cx="106.37" cy="189.7" r="0.8" fill="#222"/>
<line x1="106.82" y1="198.12" x2="108.42" y2="198.12" stroke="#222" stroke-width="0.9" stroke-linecap="butt"/>
<line x1="108.42" y1="196.92" x2="108.42" y2="199.32" stroke="#222" stroke-width="0.9" stroke-linecap="butt"/>
<line x1="107.82" y1="196.92" x2="107.82" y2="199.32" stroke="#222" stroke-width="0.9" stroke-linecap="butt"/>
<circle cx="107.02" cy="198.42" r="0.8" fill="#222"/>
<line x1="146.67" y1="206.84" x2="150.67" y2="206.84" stroke="#222" stroke-width="0.9" stroke-linecap="butt"/>
<line x1="150.67" y1="205.64" x2="150.67" y2="208.04" stroke="#222" stroke-width="0.9" stroke-linecap="butt"/>
<line x1="147.67" y1="205.64" x2="147.67" y2="208.04" stroke="#222" stroke-width="0.9" stroke-linecap="butt"/>
<circle cx="146.87" cy="207.14" r="0.8" fill="#222"/>
<line x1="149.91" y1="215.56" x2="155.91" y2="215.56" stroke="#222" stroke-width="0.9" stroke-linecap="butt"/>
<line x1="155.91" y1="214.36" x2="155.91" y2="216.76" stroke="#222" stroke-width="0.9" stroke-linecap="butt"/>
<line x1="150.91" y1="214.36" x2="150.91" y2="216.76" stroke="#222" stroke-width="0.9" stroke-linecap="butt"/>
<circle cx="150.11" cy="215.86" r="0.8" fill="#222"/>
<line x1="152.02" y1="224.28" x2="156.02" y2="224.28" stroke="#222" stroke-width="0.9" stroke-linecap="butt"/>
<line x1="156.02" y1="223.08" x2="156.02" y2="225.48" stroke="#222" stroke-width="0.9" stroke-linecap="butt"/>
<line x1="153.02" y1="223.08" x2="153.02" y2="225.48" stroke="#222" stroke-width="0.9" stroke-linecap="butt"/>
<circle cx="152.22" cy="224.58" r="0.8" fill="#222"/>
<line x1="159.14" y1="233" x2="166.14" y2="233" stroke="#222" stroke-width="0.9" stroke-linecap="butt"/>
<line x1="166.14" y1="231.8" x2="166.14" y2="234.2" stroke="#222" stroke-width="0.9" stroke-linecap="butt"/>
<line x1="160.14" y1="231.8" x2="160.14" y2="234.2" stroke="#222" stroke-width="0.9" stroke-linecap="butt"/>
<circle cx="159.34" cy="233.3" r="0.8" fill="#222"/>
<line x1="155.26" y1="241.72" x2="163.76" y2="241.72" stroke="#222" stroke-width="0.9" stroke-linecap="butt"/>
<line x1="163.76" y1="240.52" x2="163.76" y2="242.92" stroke="#222" stroke-width="0.9" stroke-linecap="butt"/>
<line x1="156.26" y1="240.52" x2="156.26" y2="242.92" stroke="#222" stroke-width="0.9" stroke-linecap="butt"/>
<circle cx="155.46" cy="242.02" r="0.8" fill="#222"/>
<circle cx="137.67" cy="206.84" r="0.6" fill="#222"/>
<circle cx="143.67" cy="207.14" r="0.6" fill="#222"/>
<circle cx="140.91" cy="215.56" r="0.6" fill="#222"/>
<circle cx="146.91" cy="215.86" r="0.6" fill="#222"/>
<circle cx="143.02" cy="224.28" r="0.6" fill="#222"/>
<circle cx="149.02" cy="224.58" r="0.6" fill="#222"/>
<circle cx="150.14" cy="233" r="0.6" fill="#222"/>
<circle cx="156.14" cy="233.3" r="0.6" fill="#222"/>
<circle cx="146.26" cy="241.72" r="0.6" fill="#222"/>
<circle cx="152.26" cy="242.02" r="0.6" fill="#222"/>
<circle cx="109.6" cy="145.8" r="0.7" fill="#222"/>
<circle cx="116.08" cy="154.52" r="0.6" fill="#222"/>
<rect x="101.6" y="139.2" width="81.1" height="107.6" fill="none" stroke="#111" stroke-width="1"/>
<line x1="97.7" y1="145.8" x2="101.6" y2="145.8" stroke="#1a1a1a" stroke-width="1.1" stroke-linecap="butt"/>
<line x1="97.7" y1="154.52" x2="101.6" y2="154.52" stroke="#1a1a1a" stroke-width="1.1" stroke-linecap="butt"/>
<line x1="97.7" y1="163.24" x2="101.6" y2="163.24" stroke="#1a1a1a" stroke-width="1.1" stroke-linecap="butt"/>
<line x1="97.7" y1="171.96" x2="101.6" y2="171.96" stroke="#1a1a1a" stroke-width="1.1" stroke-linecap="butt"/>
<line x1="97.7" y1="180.68" x2="101.6" y2="180.68" stroke="#1a1a1a" stroke-width="1.1" stroke-linecap="butt"/>
<line x1="97.7" y1="189.4" x2="101.6" y2="189.4" stroke="#1a1a1a" stroke-width="1.1" stroke-linecap="butt"/>
<line x1="97.7" y1="198.12" x2="101.6" y2="198.12" stroke="#1a1a1a" stroke-width="1.1" stroke-linecap="butt"/>
<line x1="97.7" y1="206.84" x2="101.6" y2="206.84" stroke="#1a1a1a" stroke-width="1.1" stroke-linecap="butt"/>
<line x1="97.7" y1="215.56" x2="101.6" y2="215.56" stroke="#1a1a1a" stroke-width="1.1" stroke-linecap="butt"/>
<line x1="97.7" y1="224.28" x2="101.6" y2="224.28" stroke="#1a1a1a" stroke-width="1.1" stroke-linecap="butt"/>
<line x1="97.7" y1="233" x2="101.6" y2="233" stroke="#1a1a1a" stroke-width="1.1" stroke-linecap="butt"/>
<line x1="97.7" y1="241.72" x2="101.6" y2="241.72" stroke="#1a1a1a" stroke-width="1.1" stroke-linecap="butt"/>
<line x1="101.5" y1="246.8" x2="101.5" y2="248.8" stroke="#1a1a1a" stroke-width="0.9" stroke-linecap="butt"/>
<text x="101.5" y="256.8" font-size="5.8" text-anchor="middle" fill="#231f20" stroke="#231f20" stroke-width="0.15">0</text>
<line x1="117.7" y1="246.8" x2="117.7" y2="248.8" stroke="#1a1a1a" stroke-width="0.9" stroke-linecap="butt"/>
<text x="117.7" y="256.8" font-size="5.8" text-anchor="middle" fill="#231f20" stroke="#231f20" stroke-width="0.15">10</text>
<line x1="133.9" y1="246.8" x2="133.9" y2="248.8" stroke="#1a1a1a" stroke-width="0.9" stroke-linecap="butt"/>
<text x="133.9" y="256.8" font-size="5.8" text-anchor="middle" fill="#231f20" stroke="#231f20" stroke-width="0.15">20</text>
<line x1="150.1" y1="246.8" x2="150.1" y2="248.8" stroke="#1a1a1a" stroke-width="0.9" stroke-linecap="butt"/>
<text x="150.1" y="256.8" font-size="5.8" text-anchor="middle" fill="#231f20" stroke="#231f20" stroke-width="0.15">30</text>
<line x1="166.3" y1="246.8" x2="166.3" y2="248.8" stroke="#1a1a1a" stroke-width="0.9" stroke-linecap="butt"/>
<text x="166.3" y="256.8" font-size="5.8" text-anchor="middle" fill="#231f20" stroke="#231f20" stroke-width="0.15">40</text>
<line x1="182.5" y1="246.8" x2="182.5" y2="248.8" stroke="#1a1a1a" stroke-width="0.9" stroke-linecap="butt"/>
<text x="182.5" y="256.8" font-size="5.8" text-anchor="middle" fill="#231f20" stroke="#231f20" stroke-width="0.15">50</text>
<text x="145" y="265.6" font-size="6.5" text-anchor="middle" fill="#3a3a3a" stroke="#3a3a3a" stroke-width="0.06" textLength="59.8" lengthAdjust="spacingAndGlyphs">Cell-surface TF (pM)</text>
<text x="97.2" y="148" font-size="6" text-anchor="end" fill="#231f20" stroke="#231f20" stroke-width="0.15" textLength="17.99" lengthAdjust="spacingAndGlyphs">Control</text>
<text x="97.2" y="156.72" font-size="6" text-anchor="end" fill="#231f20" stroke="#231f20" stroke-width="0.15" textLength="19.54" lengthAdjust="spacingAndGlyphs">Poly I:C</text>
<text x="97.2" y="165.44" font-size="6" text-anchor="end" fill="#231f20" stroke="#231f20" stroke-width="0.15" textLength="17.06" lengthAdjust="spacingAndGlyphs">0.5 nM</text>
<text x="97.2" y="174.16" font-size="6" text-anchor="end" fill="#231f20" stroke="#231f20" stroke-width="0.15" textLength="20.16" lengthAdjust="spacingAndGlyphs">1.25 nM</text>
<text x="97.2" y="182.88" font-size="6" text-anchor="end" fill="#231f20" stroke="#231f20" stroke-width="0.15" textLength="20.16" lengthAdjust="spacingAndGlyphs">2.25 nM</text>
<text x="97.2" y="191.6" font-size="6" text-anchor="end" fill="#231f20" stroke="#231f20" stroke-width="0.15" textLength="12.4" lengthAdjust="spacingAndGlyphs">5 nM</text>
<text x="97.2" y="200.32" font-size="6" text-anchor="end" fill="#231f20" stroke="#231f20" stroke-width="0.15" textLength="15.51" lengthAdjust="spacingAndGlyphs">15 nM</text>
<text x="97.2" y="209.04" font-size="6" text-anchor="end" fill="#231f20" stroke="#231f20" stroke-width="0.15" textLength="17.06" lengthAdjust="spacingAndGlyphs">0.5 nM</text>
<text x="97.2" y="217.76" font-size="6" text-anchor="end" fill="#231f20" stroke="#231f20" stroke-width="0.15" textLength="20.16" lengthAdjust="spacingAndGlyphs">1.25 nM</text>
<text x="97.2" y="226.48" font-size="6" text-anchor="end" fill="#231f20" stroke="#231f20" stroke-width="0.15" textLength="17.06" lengthAdjust="spacingAndGlyphs">2.5 nM</text>
<text x="97.2" y="235.2" font-size="6" text-anchor="end" fill="#231f20" stroke="#231f20" stroke-width="0.15" textLength="12.4" lengthAdjust="spacingAndGlyphs">5 nM</text>
<text x="97.2" y="243.92" font-size="6" text-anchor="end" fill="#231f20" stroke="#231f20" stroke-width="0.15" textLength="15.51" lengthAdjust="spacingAndGlyphs">10 nM</text>
<line x1="73.9" y1="162.4" x2="73.9" y2="200.4" stroke="#444" stroke-width="1.2" stroke-linecap="butt"/>
<line x1="74.1" y1="206.1" x2="74.1" y2="243.5" stroke="#444" stroke-width="1.2" stroke-linecap="butt"/>
<text x="70.6" y="181.2" font-size="6.6" text-anchor="middle" fill="#333" stroke="#333" stroke-width="0.08" textLength="29.5" lengthAdjust="spacingAndGlyphs" transform="rotate(-90 70.6 181.2)">Thrombin</text>
<text x="63.4" y="222" font-size="6.8" text-anchor="middle" fill="#333" stroke="#333" stroke-width="0.08" textLength="26" lengthAdjust="spacingAndGlyphs" transform="rotate(-90 63.4 222)">Poly (I:C)</text>
<text x="69.7" y="224" font-size="6.6" text-anchor="middle" fill="#333" stroke="#333" stroke-width="0.08" textLength="31" lengthAdjust="spacingAndGlyphs" transform="rotate(-90 69.7 224)">+Thrombin</text>
<line x1="126.7" y1="143.5" x2="126.7" y2="155" stroke="#3a3a3a" stroke-width="1.3" stroke-linecap="butt"/>
<line x1="125.7" y1="143.5" x2="127.7" y2="143.5" stroke="#3a3a3a" stroke-width="0.8" stroke-linecap="butt"/>
<line x1="125.7" y1="155" x2="127.7" y2="155" stroke="#3a3a3a" stroke-width="0.8" stroke-linecap="butt"/>
<circle cx="130.3" cy="149.2" r="0.95" fill="#222"/>
<circle cx="133.3" cy="149.2" r="0.95" fill="#222"/>
<line x1="166.5" y1="157.4" x2="166.5" y2="233.9" stroke="#3a3a3a" stroke-width="1.3" stroke-linecap="butt"/>
<line x1="165.5" y1="157.4" x2="167.5" y2="157.4" stroke="#3a3a3a" stroke-width="0.8" stroke-linecap="butt"/>
<line x1="165.5" y1="233.9" x2="167.5" y2="233.9" stroke="#3a3a3a" stroke-width="0.8" stroke-linecap="butt"/>
<circle cx="169.8" cy="195.5" r="0.95" fill="#222"/>
<line x1="174.7" y1="157.4" x2="174.7" y2="243" stroke="#3a3a3a" stroke-width="1.3" stroke-linecap="butt"/>
<line x1="173.7" y1="157.4" x2="175.7" y2="157.4" stroke="#3a3a3a" stroke-width="0.8" stroke-linecap="butt"/>
<line x1="173.7" y1="243" x2="175.7" y2="243" stroke="#3a3a3a" stroke-width="0.8" stroke-linecap="butt"/>
<circle cx="179" cy="199.4" r="0.95" fill="#222"/>
<text x="198.7" y="131.2" font-size="10.2" text-anchor="start" fill="#000" font-weight="bold">E</text>
<rect x="233.15" y="154.26" width="5.4" height="37.59" fill="#c41f37" stroke="#b3142b" stroke-width="0.5"/>
<rect x="233.15" y="237.59" width="5.4" height="19.06" fill="#c41f37" stroke="#b3142b" stroke-width="0.5"/>
<line x1="235.85" y1="155.01" x2="235.85" y2="150.91" stroke="#222" stroke-width="0.9" stroke-linecap="butt"/>
<line x1="234.65" y1="150.91" x2="237.05" y2="150.91" stroke="#222" stroke-width="0.9" stroke-linecap="butt"/>
<line x1="235.85" y1="238.34" x2="235.85" y2="235.57" stroke="#222" stroke-width="0.9" stroke-linecap="butt"/>
<line x1="234.65" y1="235.57" x2="237.05" y2="235.57" stroke="#222" stroke-width="0.9" stroke-linecap="butt"/>
<circle cx="234.65" cy="155.01" r="0.6" fill="#222"/>
<circle cx="237.05" cy="154.61" r="0.6" fill="#222"/>
<circle cx="234.65" cy="238.34" r="0.6" fill="#222"/>
<circle cx="237.05" cy="237.94" r="0.6" fill="#222"/>
<rect x="242.6" y="158.11" width="5.4" height="33.74" fill="#c41f37" stroke="#b3142b" stroke-width="0.5"/>
<rect x="242.6" y="237.59" width="5.4" height="19.06" fill="#c41f37" stroke="#b3142b" stroke-width="0.5"/>
<line x1="245.3" y1="158.86" x2="245.3" y2="155.91" stroke="#222" stroke-width="0.9" stroke-linecap="butt"/>
<line x1="244.1" y1="155.91" x2="246.5" y2="155.91" stroke="#222" stroke-width="0.9" stroke-linecap="butt"/>
<line x1="245.3" y1="238.34" x2="245.3" y2="235.57" stroke="#222" stroke-width="0.9" stroke-linecap="butt"/>
<line x1="244.1" y1="235.57" x2="246.5" y2="235.57" stroke="#222" stroke-width="0.9" stroke-linecap="butt"/>
<circle cx="244.1" cy="158.86" r="0.6" fill="#222"/>
<circle cx="246.5" cy="158.46" r="0.6" fill="#222"/>
<circle cx="244.1" cy="238.34" r="0.6" fill="#222"/>
<circle cx="246.5" cy="237.94" r="0.6" fill="#222"/>
<rect x="252.05" y="164.27" width="5.4" height="27.58" fill="#c41f37" stroke="#b3142b" stroke-width="0.5"/>
<rect x="252.05" y="238.75" width="5.4" height="17.9" fill="#c41f37" stroke="#b3142b" stroke-width="0.5"/>
<line x1="254.75" y1="165.02" x2="254.75" y2="160.91" stroke="#222" stroke-width="0.9" stroke-linecap="butt"/>
<line x1="253.55" y1="160.91" x2="255.95" y2="160.91" stroke="#222" stroke-width="0.9" stroke-linecap="butt"/>
<line x1="254.75" y1="239.5" x2="254.75" y2="236.92" stroke="#222" stroke-width="0.9" stroke-linecap="butt"/>
<line x1="253.55" y1="236.92" x2="255.95" y2="236.92" stroke="#222" stroke-width="0.9" stroke-linecap="butt"/>
<circle cx="253.55" cy="165.02" r="0.6" fill="#222"/>
<circle cx="255.95" cy="164.62" r="0.6" fill="#222"/>
<circle cx="253.55" cy="239.5" r="0.6" fill="#222"/>
<circle cx="255.95" cy="239.1" r="0.6" fill="#222"/>
<rect x="261.5" y="165.42" width="5.4" height="26.43" fill="#c41f37" stroke="#b3142b" stroke-width="0.5"/>
<rect x="261.5" y="238.36" width="5.4" height="18.29" fill="#c41f37" stroke="#b3142b" stroke-width="0.5"/>
<line x1="264.2" y1="166.17" x2="264.2" y2="163.6" stroke="#222" stroke-width="0.9" stroke-linecap="butt"/>
<line x1="263" y1="163.6" x2="265.4" y2="163.6" stroke="#222" stroke-width="0.9" stroke-linecap="butt"/>
<line x1="264.2" y1="239.11" x2="264.2" y2="236.15" stroke="#222" stroke-width="0.9" stroke-linecap="butt"/>
<line x1="263" y1="236.15" x2="265.4" y2="236.15" stroke="#222" stroke-width="0.9" stroke-linecap="butt"/>
<circle cx="263" cy="166.17" r="0.6" fill="#222"/>
<circle cx="265.4" cy="165.77" r="0.6" fill="#222"/>
<circle cx="263" cy="239.11" r="0.6" fill="#222"/>
<circle cx="265.4" cy="238.71" r="0.6" fill="#222"/>
<rect x="270.95" y="153.88" width="5.4" height="37.97" fill="#c41f37" stroke="#b3142b" stroke-width="0.5"/>
<rect x="270.95" y="237.39" width="5.4" height="19.26" fill="#c41f37" stroke="#b3142b" stroke-width="0.5"/>
<line x1="273.65" y1="154.63" x2="273.65" y2="150.52" stroke="#222" stroke-width="0.9" stroke-linecap="butt"/>
<line x1="272.45" y1="150.52" x2="274.85" y2="150.52" stroke="#222" stroke-width="0.9" stroke-linecap="butt"/>
<line x1="273.65" y1="238.14" x2="273.65" y2="235.37" stroke="#222" stroke-width="0.9" stroke-linecap="butt"/>
<line x1="272.45" y1="235.37" x2="274.85" y2="235.37" stroke="#222" stroke-width="0.9" stroke-linecap="butt"/>
<circle cx="272.45" cy="154.63" r="0.6" fill="#222"/>
<circle cx="274.85" cy="154.23" r="0.6" fill="#222"/>
<circle cx="272.45" cy="238.14" r="0.6" fill="#222"/>
<circle cx="274.85" cy="237.74" r="0.6" fill="#222"/>
<rect x="280.4" y="158.11" width="5.4" height="33.74" fill="#c41f37" stroke="#b3142b" stroke-width="0.5"/>
<rect x="280.4" y="231" width="5.4" height="25.65" fill="#c41f37" stroke="#b3142b" stroke-width="0.5"/>
<line x1="283.1" y1="158.86" x2="283.1" y2="155.52" stroke="#222" stroke-width="0.9" stroke-linecap="butt"/>
<line x1="281.9" y1="155.52" x2="284.3" y2="155.52" stroke="#222" stroke-width="0.9" stroke-linecap="butt"/>
<line x1="283.1" y1="231.75" x2="283.1" y2="228.98" stroke="#222" stroke-width="0.9" stroke-linecap="butt"/>
<line x1="281.9" y1="228.98" x2="284.3" y2="228.98" stroke="#222" stroke-width="0.9" stroke-linecap="butt"/>
<circle cx="281.9" cy="158.86" r="0.6" fill="#222"/>
<circle cx="284.3" cy="158.46" r="0.6" fill="#222"/>
<circle cx="281.9" cy="231.75" r="0.6" fill="#222"/>
<circle cx="284.3" cy="231.35" r="0.6" fill="#222"/>
<rect x="289.85" y="163.11" width="5.4" height="28.74" fill="#c41f37" stroke="#b3142b" stroke-width="0.5"/>
<rect x="289.85" y="237.97" width="5.4" height="18.68" fill="#c41f37" stroke="#b3142b" stroke-width="0.5"/>
<line x1="292.55" y1="163.86" x2="292.55" y2="159.75" stroke="#222" stroke-width="0.9" stroke-linecap="butt"/>
<line x1="291.35" y1="159.75" x2="293.75" y2="159.75" stroke="#222" stroke-width="0.9" stroke-linecap="butt"/>
<line x1="292.55" y1="238.72" x2="292.55" y2="236.15" stroke="#222" stroke-width="0.9" stroke-linecap="butt"/>
<line x1="291.35" y1="236.15" x2="293.75" y2="236.15" stroke="#222" stroke-width="0.9" stroke-linecap="butt"/>
<circle cx="291.35" cy="163.86" r="0.6" fill="#222"/>
<circle cx="293.75" cy="163.46" r="0.6" fill="#222"/>
<circle cx="291.35" cy="238.72" r="0.6" fill="#222"/>
<circle cx="293.75" cy="238.32" r="0.6" fill="#222"/>
<rect x="299.3" y="165.42" width="5.4" height="26.43" fill="#c41f37" stroke="#b3142b" stroke-width="0.5"/>
<rect x="299.3" y="230.42" width="5.4" height="26.23" fill="#c41f37" stroke="#b3142b" stroke-width="0.5"/>
<line x1="302" y1="166.17" x2="302" y2="163.6" stroke="#222" stroke-width="0.9" stroke-linecap="butt"/>
<line x1="300.8" y1="163.6" x2="303.2" y2="163.6" stroke="#222" stroke-width="0.9" stroke-linecap="butt"/>
<line x1="302" y1="231.17" x2="302" y2="223.56" stroke="#222" stroke-width="0.9" stroke-linecap="butt"/>
<line x1="300.8" y1="223.56" x2="303.2" y2="223.56" stroke="#222" stroke-width="0.9" stroke-linecap="butt"/>
<circle cx="300.8" cy="166.17" r="0.6" fill="#222"/>
<circle cx="303.2" cy="165.77" r="0.6" fill="#222"/>
<circle cx="300.8" cy="231.17" r="0.6" fill="#222"/>
<circle cx="303.2" cy="230.77" r="0.6" fill="#222"/>
<rect x="308.75" y="154.26" width="5.4" height="37.59" fill="#c41f37" stroke="#b3142b" stroke-width="0.5"/>
<rect x="308.75" y="237.01" width="5.4" height="19.64" fill="#c41f37" stroke="#b3142b" stroke-width="0.5"/>
<line x1="311.45" y1="155.01" x2="311.45" y2="143.6" stroke="#222" stroke-width="0.9" stroke-linecap="butt"/>
<line x1="310.25" y1="143.6" x2="312.65" y2="143.6" stroke="#222" stroke-width="0.9" stroke-linecap="butt"/>
<line x1="311.45" y1="237.76" x2="311.45" y2="234.99" stroke="#222" stroke-width="0.9" stroke-linecap="butt"/>
<line x1="310.25" y1="234.99" x2="312.65" y2="234.99" stroke="#222" stroke-width="0.9" stroke-linecap="butt"/>
<circle cx="310.25" cy="155.01" r="0.6" fill="#222"/>
<circle cx="312.65" cy="154.61" r="0.6" fill="#222"/>
<circle cx="310.25" cy="237.76" r="0.6" fill="#222"/>
<circle cx="312.65" cy="237.36" r="0.6" fill="#222"/>
<rect x="318.2" y="161.96" width="5.4" height="29.89" fill="#c41f37" stroke="#b3142b" stroke-width="0.5"/>
<rect x="318.2" y="215.7" width="5.4" height="40.95" fill="#c41f37" stroke="#b3142b" stroke-width="0.5"/>
<line x1="320.9" y1="162.71" x2="320.9" y2="152.45" stroke="#222" stroke-width="0.9" stroke-linecap="butt"/>
<line x1="319.7" y1="152.45" x2="322.1" y2="152.45" stroke="#222" stroke-width="0.9" stroke-linecap="butt"/>
<line x1="320.9" y1="216.45" x2="320.9" y2="212.32" stroke="#222" stroke-width="0.9" stroke-linecap="butt"/>
<line x1="319.7" y1="212.32" x2="322.1" y2="212.32" stroke="#222" stroke-width="0.9" stroke-linecap="butt"/>
<circle cx="319.7" cy="162.71" r="0.6" fill="#222"/>
<circle cx="322.1" cy="162.31" r="0.6" fill="#222"/>
<circle cx="319.7" cy="216.45" r="0.6" fill="#222"/>
<circle cx="322.1" cy="216.05" r="0.6" fill="#222"/>
<rect x="327.65" y="161.96" width="5.4" height="29.89" fill="#c41f37" stroke="#b3142b" stroke-width="0.5"/>
<rect x="327.65" y="243.78" width="5.4" height="12.87" fill="#c41f37" stroke="#b3142b" stroke-width="0.5"/>
<line x1="330.35" y1="162.71" x2="330.35" y2="152.83" stroke="#222" stroke-width="0.9" stroke-linecap="butt"/>
<line x1="329.15" y1="152.83" x2="331.55" y2="152.83" stroke="#222" stroke-width="0.9" stroke-linecap="butt"/>
<line x1="330.35" y1="244.53" x2="330.35" y2="241.96" stroke="#222" stroke-width="0.9" stroke-linecap="butt"/>
<line x1="329.15" y1="241.96" x2="331.55" y2="241.96" stroke="#222" stroke-width="0.9" stroke-linecap="butt"/>
<circle cx="329.15" cy="162.71" r="0.6" fill="#222"/>
<circle cx="331.55" cy="162.31" r="0.6" fill="#222"/>
<circle cx="329.15" cy="244.53" r="0.6" fill="#222"/>
<circle cx="331.55" cy="244.13" r="0.6" fill="#222"/>
<rect x="337.1" y="164.27" width="5.4" height="27.58" fill="#c41f37" stroke="#b3142b" stroke-width="0.5"/>
<rect x="337.1" y="235.26" width="5.4" height="21.39" fill="#c41f37" stroke="#b3142b" stroke-width="0.5"/>
<line x1="339.8" y1="165.02" x2="339.8" y2="153.98" stroke="#222" stroke-width="0.9" stroke-linecap="butt"/>
<line x1="338.6" y1="153.98" x2="341" y2="153.98" stroke="#222" stroke-width="0.9" stroke-linecap="butt"/>
<line x1="339.8" y1="236.01" x2="339.8" y2="232.27" stroke="#222" stroke-width="0.9" stroke-linecap="butt"/>
<line x1="338.6" y1="232.27" x2="341" y2="232.27" stroke="#222" stroke-width="0.9" stroke-linecap="butt"/>
<circle cx="338.6" cy="165.02" r="0.6" fill="#222"/>
<circle cx="341" cy="164.62" r="0.6" fill="#222"/>
<circle cx="338.6" cy="236.01" r="0.6" fill="#222"/>
<circle cx="341" cy="235.61" r="0.6" fill="#222"/>
<circle cx="309.6" cy="154.6" r="0.75" fill="#222"/>
<circle cx="312.6" cy="154.6" r="0.75" fill="#222"/>
<circle cx="311.1" cy="170.9" r="0.75" fill="#222"/>
<circle cx="310.1" cy="145" r="0.75" fill="#222"/>
<circle cx="319.2" cy="149.8" r="0.75" fill="#222"/>
<circle cx="320.8" cy="159" r="0.75" fill="#222"/>
<circle cx="322.2" cy="158" r="0.75" fill="#222"/>
<circle cx="320.8" cy="166" r="0.75" fill="#222"/>
<circle cx="330.5" cy="147.4" r="0.75" fill="#222"/>
<circle cx="329.2" cy="157" r="0.75" fill="#222"/>
<circle cx="331.5" cy="161" r="0.75" fill="#222"/>
<circle cx="332" cy="166.7" r="0.75" fill="#222"/>
<circle cx="340" cy="153" r="0.75" fill="#222"/>
<circle cx="339" cy="161" r="0.75" fill="#222"/>
<circle cx="340.5" cy="165" r="0.75" fill="#222"/>
<circle cx="341" cy="170" r="0.75" fill="#222"/>
<rect x="229.3" y="133.6" width="117.9" height="58.5" fill="none" stroke="#111" stroke-width="1"/>
<rect x="229.9" y="198.5" width="117.3" height="58.4" fill="none" stroke="#111" stroke-width="1"/>
<line x1="268.4" y1="133.6" x2="268.4" y2="192.1" stroke="#222" stroke-width="0.7" stroke-linecap="butt" stroke-dasharray="1.2,1.2"/>
<line x1="268.4" y1="198.5" x2="268.4" y2="256.9" stroke="#222" stroke-width="0.7" stroke-linecap="butt" stroke-dasharray="1.2,1.2"/>
<line x1="306.5" y1="133.6" x2="306.5" y2="192.1" stroke="#222" stroke-width="0.7" stroke-linecap="butt" stroke-dasharray="1.2,1.2"/>
<line x1="306.5" y1="198.5" x2="306.5" y2="256.9" stroke="#222" stroke-width="0.7" stroke-linecap="butt" stroke-dasharray="1.2,1.2"/>
<line x1="235.85" y1="192.1" x2="235.85" y2="194.6" stroke="#1a1a1a" stroke-width="0.8" stroke-linecap="butt"/>
<line x1="235.85" y1="256.9" x2="235.85" y2="259.2" stroke="#1a1a1a" stroke-width="0.8" stroke-linecap="butt"/>
<line x1="245.3" y1="192.1" x2="245.3" y2="194.6" stroke="#1a1a1a" stroke-width="0.8" stroke-linecap="butt"/>
<line x1="245.3" y1="256.9" x2="245.3" y2="259.2" stroke="#1a1a1a" stroke-width="0.8" stroke-linecap="butt"/>
<line x1="254.75" y1="192.1" x2="254.75" y2="194.6" stroke="#1a1a1a" stroke-width="0.8" stroke-linecap="butt"/>
<line x1="254.75" y1="256.9" x2="254.75" y2="259.2" stroke="#1a1a1a" stroke-width="0.8" stroke-linecap="butt"/>
<line x1="264.2" y1="192.1" x2="264.2" y2="194.6" stroke="#1a1a1a" stroke-width="0.8" stroke-linecap="butt"/>
<line x1="264.2" y1="256.9" x2="264.2" y2="259.2" stroke="#1a1a1a" stroke-width="0.8" stroke-linecap="butt"/>
<line x1="273.65" y1="192.1" x2="273.65" y2="194.6" stroke="#1a1a1a" stroke-width="0.8" stroke-linecap="butt"/>
<line x1="273.65" y1="256.9" x2="273.65" y2="259.2" stroke="#1a1a1a" stroke-width="0.8" stroke-linecap="butt"/>
<line x1="283.1" y1="192.1" x2="283.1" y2="194.6" stroke="#1a1a1a" stroke-width="0.8" stroke-linecap="butt"/>
<line x1="283.1" y1="256.9" x2="283.1" y2="259.2" stroke="#1a1a1a" stroke-width="0.8" stroke-linecap="butt"/>
<line x1="292.55" y1="192.1" x2="292.55" y2="194.6" stroke="#1a1a1a" stroke-width="0.8" stroke-linecap="butt"/>
<line x1="292.55" y1="256.9" x2="292.55" y2="259.2" stroke="#1a1a1a" stroke-width="0.8" stroke-linecap="butt"/>
<line x1="302" y1="192.1" x2="302" y2="194.6" stroke="#1a1a1a" stroke-width="0.8" stroke-linecap="butt"/>
<line x1="302" y1="256.9" x2="302" y2="259.2" stroke="#1a1a1a" stroke-width="0.8" stroke-linecap="butt"/>
<line x1="311.45" y1="192.1" x2="311.45" y2="194.6" stroke="#1a1a1a" stroke-width="0.8" stroke-linecap="butt"/>
<line x1="311.45" y1="256.9" x2="311.45" y2="259.2" stroke="#1a1a1a" stroke-width="0.8" stroke-linecap="butt"/>
<line x1="320.9" y1="192.1" x2="320.9" y2="194.6" stroke="#1a1a1a" stroke-width="0.8" stroke-linecap="butt"/>
<line x1="320.9" y1="256.9" x2="320.9" y2="259.2" stroke="#1a1a1a" stroke-width="0.8" stroke-linecap="butt"/>
<line x1="330.35" y1="192.1" x2="330.35" y2="194.6" stroke="#1a1a1a" stroke-width="0.8" stroke-linecap="butt"/>
<line x1="330.35" y1="256.9" x2="330.35" y2="259.2" stroke="#1a1a1a" stroke-width="0.8" stroke-linecap="butt"/>
<line x1="339.8" y1="192.1" x2="339.8" y2="194.6" stroke="#1a1a1a" stroke-width="0.8" stroke-linecap="butt"/>
<line x1="339.8" y1="256.9" x2="339.8" y2="259.2" stroke="#1a1a1a" stroke-width="0.8" stroke-linecap="butt"/>
<line x1="226.3" y1="192.1" x2="229.3" y2="192.1" stroke="#1a1a1a" stroke-width="0.9" stroke-linecap="butt"/>
<text x="224.6" y="194.1" font-size="5.6" text-anchor="end" fill="#231f20" stroke="#231f20" stroke-width="0.15">0.0</text>
<line x1="226.3" y1="172.87" x2="229.3" y2="172.87" stroke="#1a1a1a" stroke-width="0.9" stroke-linecap="butt"/>
<text x="224.6" y="174.87" font-size="5.6" text-anchor="end" fill="#231f20" stroke="#231f20" stroke-width="0.15">0.5</text>
<line x1="226.3" y1="153.63" x2="229.3" y2="153.63" stroke="#1a1a1a" stroke-width="0.9" stroke-linecap="butt"/>
<text x="224.6" y="155.63" font-size="5.6" text-anchor="end" fill="#231f20" stroke="#231f20" stroke-width="0.15">1.0</text>
<line x1="226.3" y1="134.39" x2="229.3" y2="134.39" stroke="#1a1a1a" stroke-width="0.9" stroke-linecap="butt"/>
<text x="224.6" y="136.39" font-size="5.6" text-anchor="end" fill="#231f20" stroke="#231f20" stroke-width="0.15">1.5</text>
<line x1="227" y1="256.9" x2="229.9" y2="256.9" stroke="#1a1a1a" stroke-width="0.9" stroke-linecap="butt"/>
<text x="224.8" y="258.9" font-size="5.6" text-anchor="end" fill="#231f20" stroke="#231f20" stroke-width="0.15">0</text>
<line x1="227" y1="237.53" x2="229.9" y2="237.53" stroke="#1a1a1a" stroke-width="0.9" stroke-linecap="butt"/>
<text x="224.8" y="239.53" font-size="5.6" text-anchor="end" fill="#231f20" stroke="#231f20" stroke-width="0.15">1</text>
<line x1="227" y1="218.16" x2="229.9" y2="218.16" stroke="#1a1a1a" stroke-width="0.9" stroke-linecap="butt"/>
<text x="224.8" y="220.16" font-size="5.6" text-anchor="end" fill="#231f20" stroke="#231f20" stroke-width="0.15">2</text>
<line x1="227" y1="198.79" x2="229.9" y2="198.79" stroke="#1a1a1a" stroke-width="0.9" stroke-linecap="butt"/>
<text x="224.8" y="200.79" font-size="5.6" text-anchor="end" fill="#231f20" stroke="#231f20" stroke-width="0.15">3</text>
<text x="250.7" y="131" font-size="6.5" text-anchor="middle" fill="#333" stroke="#333" stroke-width="0.05" textLength="15.7" lengthAdjust="spacingAndGlyphs">PAR1</text>
<text x="289.5" y="131" font-size="6.5" text-anchor="middle" fill="#333" stroke="#333" stroke-width="0.05" textLength="15.7" lengthAdjust="spacingAndGlyphs">PAR2</text>
<text x="327.5" y="131" font-size="6.5" text-anchor="middle" fill="#333" stroke="#333" stroke-width="0.05" textLength="15.7" lengthAdjust="spacingAndGlyphs">TLR3</text>
<text x="205.4" y="195.5" font-size="6.2" text-anchor="middle" fill="#3a3a3a" stroke="#3a3a3a" stroke-width="0.06" textLength="96.5" lengthAdjust="spacingAndGlyphs" transform="rotate(-90 205.4 195.5)">mRNA expression (fold change)</text>
<line x1="207.7" y1="147.4" x2="207.7" y2="243.5" stroke="#222" stroke-width="0.9" stroke-linecap="butt"/>
<text x="214" y="165.8" font-size="6" text-anchor="middle" fill="#231f20" stroke="#231f20" stroke-width="0.15" textLength="20" lengthAdjust="spacingAndGlyphs" transform="rotate(-90 214 165.8)">HUVEC</text>
<text x="215" y="222.9" font-size="6.5" text-anchor="middle" fill="#231f20" stroke="#231f20" stroke-width="0.15" textLength="30.4" lengthAdjust="spacingAndGlyphs" transform="rotate(-90 215 222.9)">EA. hy926</text>
<line x1="237.1" y1="140.8" x2="255.9" y2="140.8" stroke="#333" stroke-width="1.1" stroke-linecap="butt"/>
<line x1="237.1" y1="139.8" x2="237.1" y2="141.8" stroke="#333" stroke-width="0.8" stroke-linecap="butt"/>
<line x1="255.9" y1="139.8" x2="255.9" y2="141.8" stroke="#333" stroke-width="0.8" stroke-linecap="butt"/>
<circle cx="242.7" cy="137.5" r="0.95" fill="#222"/>
<circle cx="245.3" cy="137.5" r="0.95" fill="#222"/>
<circle cx="247.9" cy="137.5" r="0.95" fill="#222"/>
<circle cx="250.5" cy="137.5" r="0.95" fill="#222"/>
<line x1="234.9" y1="147.5" x2="245" y2="147.5" stroke="#333" stroke-width="1.1" stroke-linecap="butt"/>
<line x1="234.9" y1="146.5" x2="234.9" y2="148.5" stroke="#333" stroke-width="0.8" stroke-linecap="butt"/>
<line x1="245" y1="146.5" x2="245" y2="148.5" stroke="#333" stroke-width="0.8" stroke-linecap="butt"/>
<circle cx="240" cy="144.2" r="0.95" fill="#222"/>
<line x1="246" y1="147.5" x2="265.7" y2="147.5" stroke="#333" stroke-width="1.1" stroke-linecap="butt"/>
<line x1="246" y1="146.5" x2="246" y2="148.5" stroke="#333" stroke-width="0.8" stroke-linecap="butt"/>
<line x1="265.7" y1="146.5" x2="265.7" y2="148.5" stroke="#333" stroke-width="0.8" stroke-linecap="butt"/>
<circle cx="251.7" cy="144.2" r="0.95" fill="#222"/>
<circle cx="254.3" cy="144.2" r="0.95" fill="#222"/>
<circle cx="256.9" cy="144.2" r="0.95" fill="#222"/>
<circle cx="259.5" cy="144.2" r="0.95" fill="#222"/>
<line x1="273" y1="140.5" x2="292.8" y2="140.5" stroke="#333" stroke-width="1.1" stroke-linecap="butt"/>
<line x1="273" y1="139.5" x2="273" y2="141.5" stroke="#333" stroke-width="0.8" stroke-linecap="butt"/>
<line x1="292.8" y1="139.5" x2="292.8" y2="141.5" stroke="#333" stroke-width="0.8" stroke-linecap="butt"/>
<circle cx="279.1" cy="137.7" r="0.95" fill="#222"/>
<circle cx="281.7" cy="137.7" r="0.95" fill="#222"/>
<circle cx="284.3" cy="137.7" r="0.95" fill="#222"/>
<circle cx="286.9" cy="137.7" r="0.95" fill="#222"/>
<line x1="271.2" y1="147.5" x2="281.7" y2="147.5" stroke="#333" stroke-width="1.1" stroke-linecap="butt"/>
<line x1="271.2" y1="146.5" x2="271.2" y2="148.5" stroke="#333" stroke-width="0.8" stroke-linecap="butt"/>
<line x1="281.7" y1="146.5" x2="281.7" y2="148.5" stroke="#333" stroke-width="0.8" stroke-linecap="butt"/>
<circle cx="276.1" cy="144.4" r="0.95" fill="#222"/>
<line x1="282" y1="151.6" x2="303.3" y2="151.6" stroke="#333" stroke-width="1.1" stroke-linecap="butt"/>
<line x1="282" y1="150.6" x2="282" y2="152.6" stroke="#333" stroke-width="0.8" stroke-linecap="butt"/>
<line x1="303.3" y1="150.6" x2="303.3" y2="152.6" stroke="#333" stroke-width="0.8" stroke-linecap="butt"/>
<circle cx="288.9" cy="148.3" r="0.95" fill="#222"/>
<circle cx="291.5" cy="148.3" r="0.95" fill="#222"/>
<circle cx="294.1" cy="148.3" r="0.95" fill="#222"/>
<circle cx="296.7" cy="148.3" r="0.95" fill="#222"/>
<line x1="311.1" y1="141.7" x2="321.3" y2="141.7" stroke="#333" stroke-width="1.1" stroke-linecap="butt"/>
<line x1="311.1" y1="140.7" x2="311.1" y2="142.7" stroke="#333" stroke-width="0.8" stroke-linecap="butt"/>
<line x1="321.3" y1="140.7" x2="321.3" y2="142.7" stroke="#333" stroke-width="0.8" stroke-linecap="butt"/>
<text x="313.6" y="140.4" font-size="6.6" text-anchor="start" fill="#231f20" stroke="#231f20" stroke-width="0.08" textLength="6.4" lengthAdjust="spacingAndGlyphs">ns</text>
<line x1="273.4" y1="226.9" x2="284" y2="226.9" stroke="#333" stroke-width="1.1" stroke-linecap="butt"/>
<line x1="273.4" y1="225.9" x2="273.4" y2="227.9" stroke="#333" stroke-width="0.8" stroke-linecap="butt"/>
<line x1="284" y1="225.9" x2="284" y2="227.9" stroke="#333" stroke-width="0.8" stroke-linecap="butt"/>
<circle cx="277.3" cy="223.6" r="0.95" fill="#222"/>
<circle cx="280.1" cy="223.6" r="0.95" fill="#222"/>
<line x1="310" y1="205" x2="320" y2="205" stroke="#333" stroke-width="1.1" stroke-linecap="butt"/>
<line x1="310" y1="204" x2="310" y2="206" stroke="#333" stroke-width="0.8" stroke-linecap="butt"/>
<line x1="320" y1="204" x2="320" y2="206" stroke="#333" stroke-width="0.8" stroke-linecap="butt"/>
<circle cx="311.1" cy="202" r="0.95" fill="#222"/>
<circle cx="313.7" cy="202" r="0.95" fill="#222"/>
<circle cx="316.3" cy="202" r="0.95" fill="#222"/>
<circle cx="318.9" cy="202" r="0.95" fill="#222"/>
<line x1="322" y1="205" x2="342.8" y2="205" stroke="#333" stroke-width="1.1" stroke-linecap="butt"/>
<line x1="322" y1="204" x2="322" y2="206" stroke="#333" stroke-width="0.8" stroke-linecap="butt"/>
<line x1="342.8" y1="204" x2="342.8" y2="206" stroke="#333" stroke-width="0.8" stroke-linecap="butt"/>
<circle cx="328.3" cy="202" r="0.95" fill="#222"/>
<circle cx="330.9" cy="202" r="0.95" fill="#222"/>
<circle cx="333.5" cy="202" r="0.95" fill="#222"/>
<circle cx="336.1" cy="202" r="0.95" fill="#222"/>
<text x="237.45" y="264" font-size="6" text-anchor="end" fill="#333" stroke="#333" stroke-width="0.06" textLength="18.37" lengthAdjust="spacingAndGlyphs" transform="rotate(-45 237.45 264)">Control</text>
<text x="246.9" y="264" font-size="6" text-anchor="end" fill="#333" stroke="#333" stroke-width="0.06" textLength="23.75" lengthAdjust="spacingAndGlyphs" transform="rotate(-45 246.9 264)">Poly (I:C)</text>
<text x="256.35" y="264" font-size="6" text-anchor="end" fill="#333" stroke="#333" stroke-width="0.06" textLength="24.07" lengthAdjust="spacingAndGlyphs" transform="rotate(-45 256.35 264)">Thrombin</text>
<text x="265.8" y="264" font-size="6" text-anchor="end" fill="#333" stroke="#333" stroke-width="0.06" textLength="51.15" lengthAdjust="spacingAndGlyphs" transform="rotate(-45 265.8 264)">Poly (I:C)+Thrombin</text>
<text x="275.25" y="264" font-size="6" text-anchor="end" fill="#333" stroke="#333" stroke-width="0.06" textLength="18.37" lengthAdjust="spacingAndGlyphs" transform="rotate(-45 275.25 264)">Control</text>
<text x="284.7" y="264" font-size="6" text-anchor="end" fill="#333" stroke="#333" stroke-width="0.06" textLength="23.75" lengthAdjust="spacingAndGlyphs" transform="rotate(-45 284.7 264)">Poly (I:C)</text>
<text x="294.15" y="264" font-size="6" text-anchor="end" fill="#333" stroke="#333" stroke-width="0.06" textLength="24.07" lengthAdjust="spacingAndGlyphs" transform="rotate(-45 294.15 264)">Thrombin</text>
<text x="303.6" y="264" font-size="6" text-anchor="end" fill="#333" stroke="#333" stroke-width="0.06" textLength="51.15" lengthAdjust="spacingAndGlyphs" transform="rotate(-45 303.6 264)">Poly (I:C)+Thrombin</text>
<text x="313.05" y="264" font-size="6" text-anchor="end" fill="#333" stroke="#333" stroke-width="0.06" textLength="18.37" lengthAdjust="spacingAndGlyphs" transform="rotate(-45 313.05 264)">Control</text>
<text x="322.5" y="264" font-size="6" text-anchor="end" fill="#333" stroke="#333" stroke-width="0.06" textLength="23.75" lengthAdjust="spacingAndGlyphs" transform="rotate(-45 322.5 264)">Poly (I:C)</text>
<text x="331.95" y="264" font-size="6" text-anchor="end" fill="#333" stroke="#333" stroke-width="0.06" textLength="24.07" lengthAdjust="spacingAndGlyphs" transform="rotate(-45 331.95 264)">Thrombin</text>
<text x="341.4" y="264" font-size="6" text-anchor="end" fill="#333" stroke="#333" stroke-width="0.06" textLength="51.15" lengthAdjust="spacingAndGlyphs" transform="rotate(-45 341.4 264)">Poly (I:C)+Thrombin</text>
<text x="359.6" y="131.2" font-size="10.2" text-anchor="start" fill="#000" font-weight="bold">F</text>
<rect x="398.95" y="185.79" width="5.5" height="1.26" fill="#c41f37" stroke="#b3142b" stroke-width="0.5"/>
<line x1="401.7" y1="186.54" x2="401.7" y2="183.24" stroke="#222" stroke-width="0.9" stroke-linecap="butt"/>
<line x1="400.5" y1="183.24" x2="402.9" y2="183.24" stroke="#222" stroke-width="0.9" stroke-linecap="butt"/>
<circle cx="400.7" cy="186.34" r="0.6" fill="#222"/>
<circle cx="402.9" cy="185.94" r="0.6" fill="#222"/>
<rect x="398.95" y="251.45" width="5.5" height="0.6" fill="#c41f37" stroke="#b3142b" stroke-width="0.5"/>
<line x1="401.7" y1="252.2" x2="401.7" y2="250" stroke="#222" stroke-width="0.9" stroke-linecap="butt"/>
<line x1="400.5" y1="250" x2="402.9" y2="250" stroke="#222" stroke-width="0.9" stroke-linecap="butt"/>
<circle cx="400.7" cy="252" r="0.6" fill="#222"/>
<circle cx="402.9" cy="251.6" r="0.6" fill="#222"/>
<rect x="408.42" y="184.53" width="5.5" height="2.52" fill="#c41f37" stroke="#b3142b" stroke-width="0.5"/>
<line x1="411.17" y1="185.28" x2="411.17" y2="182.73" stroke="#222" stroke-width="0.9" stroke-linecap="butt"/>
<line x1="409.97" y1="182.73" x2="412.37" y2="182.73" stroke="#222" stroke-width="0.9" stroke-linecap="butt"/>
<circle cx="410.17" cy="185.08" r="0.6" fill="#222"/>
<circle cx="412.37" cy="184.68" r="0.6" fill="#222"/>
<rect x="408.42" y="248.4" width="5.5" height="3.65" fill="#c41f37" stroke="#b3142b" stroke-width="0.5"/>
<line x1="411.17" y1="249.15" x2="411.17" y2="247.15" stroke="#222" stroke-width="0.9" stroke-linecap="butt"/>
<line x1="409.97" y1="247.15" x2="412.37" y2="247.15" stroke="#222" stroke-width="0.9" stroke-linecap="butt"/>
<circle cx="410.17" cy="248.95" r="0.6" fill="#222"/>
<circle cx="412.37" cy="248.55" r="0.6" fill="#222"/>
<rect x="417.89" y="182.02" width="5.5" height="5.03" fill="#c41f37" stroke="#b3142b" stroke-width="0.5"/>
<line x1="420.64" y1="182.77" x2="420.64" y2="176.47" stroke="#222" stroke-width="0.9" stroke-linecap="butt"/>
<line x1="419.44" y1="176.47" x2="421.84" y2="176.47" stroke="#222" stroke-width="0.9" stroke-linecap="butt"/>
<circle cx="419.64" cy="182.57" r="0.6" fill="#222"/>
<circle cx="421.84" cy="182.17" r="0.6" fill="#222"/>
<rect x="417.89" y="250.36" width="5.5" height="1.69" fill="#c41f37" stroke="#b3142b" stroke-width="0.5"/>
<line x1="420.64" y1="251.11" x2="420.64" y2="249.31" stroke="#222" stroke-width="0.9" stroke-linecap="butt"/>
<line x1="419.44" y1="249.31" x2="421.84" y2="249.31" stroke="#222" stroke-width="0.9" stroke-linecap="butt"/>
<circle cx="419.64" cy="250.91" r="0.6" fill="#222"/>
<circle cx="421.84" cy="250.51" r="0.6" fill="#222"/>
<rect x="427.36" y="172.96" width="5.5" height="14.09" fill="#c41f37" stroke="#b3142b" stroke-width="0.5"/>
<line x1="430.11" y1="173.71" x2="430.11" y2="163.91" stroke="#222" stroke-width="0.9" stroke-linecap="butt"/>
<line x1="428.91" y1="163.91" x2="431.31" y2="163.91" stroke="#222" stroke-width="0.9" stroke-linecap="butt"/>
<circle cx="429.11" cy="173.51" r="0.6" fill="#222"/>
<circle cx="431.31" cy="173.11" r="0.6" fill="#222"/>
<rect x="427.36" y="242.68" width="5.5" height="9.37" fill="#c41f37" stroke="#b3142b" stroke-width="0.5"/>
<line x1="430.11" y1="243.43" x2="430.11" y2="238.63" stroke="#222" stroke-width="0.9" stroke-linecap="butt"/>
<line x1="428.91" y1="238.63" x2="431.31" y2="238.63" stroke="#222" stroke-width="0.9" stroke-linecap="butt"/>
<circle cx="429.11" cy="243.23" r="0.6" fill="#222"/>
<circle cx="431.31" cy="242.83" r="0.6" fill="#222"/>
<rect x="436.83" y="186.29" width="5.5" height="0.76" fill="#c41f37" stroke="#b3142b" stroke-width="0.5"/>
<line x1="439.58" y1="187.04" x2="439.58" y2="184.74" stroke="#222" stroke-width="0.9" stroke-linecap="butt"/>
<line x1="438.38" y1="184.74" x2="440.78" y2="184.74" stroke="#222" stroke-width="0.9" stroke-linecap="butt"/>
<circle cx="438.58" cy="186.84" r="0.6" fill="#222"/>
<circle cx="440.78" cy="186.44" r="0.6" fill="#222"/>
<rect x="436.83" y="250.74" width="5.5" height="1.31" fill="#c41f37" stroke="#b3142b" stroke-width="0.5"/>
<line x1="439.58" y1="251.49" x2="439.58" y2="249.89" stroke="#222" stroke-width="0.9" stroke-linecap="butt"/>
<line x1="438.38" y1="249.89" x2="440.78" y2="249.89" stroke="#222" stroke-width="0.9" stroke-linecap="butt"/>
<circle cx="438.58" cy="251.29" r="0.6" fill="#222"/>
<circle cx="440.78" cy="250.89" r="0.6" fill="#222"/>
<rect x="446.3" y="178.24" width="5.5" height="8.81" fill="#c41f37" stroke="#b3142b" stroke-width="0.5"/>
<line x1="449.05" y1="178.99" x2="449.05" y2="173.44" stroke="#222" stroke-width="0.9" stroke-linecap="butt"/>
<line x1="447.85" y1="173.44" x2="450.25" y2="173.44" stroke="#222" stroke-width="0.9" stroke-linecap="butt"/>
<circle cx="448.05" cy="178.79" r="0.6" fill="#222"/>
<circle cx="450.25" cy="178.39" r="0.6" fill="#222"/>
<rect x="446.3" y="225.38" width="5.5" height="26.67" fill="#c41f37" stroke="#b3142b" stroke-width="0.5"/>
<rect x="445.55" y="233.4" width="7" height="4.5" fill="#fff"/>
<line x1="449.05" y1="226.13" x2="449.05" y2="223.73" stroke="#222" stroke-width="0.9" stroke-linecap="butt"/>
<line x1="447.85" y1="223.73" x2="450.25" y2="223.73" stroke="#222" stroke-width="0.9" stroke-linecap="butt"/>
<circle cx="448.05" cy="225.93" r="0.6" fill="#222"/>
<circle cx="450.25" cy="225.53" r="0.6" fill="#222"/>
<rect x="455.77" y="172.96" width="5.5" height="14.09" fill="#c41f37" stroke="#b3142b" stroke-width="0.5"/>
<line x1="458.52" y1="173.71" x2="458.52" y2="167.41" stroke="#222" stroke-width="0.9" stroke-linecap="butt"/>
<line x1="457.32" y1="167.41" x2="459.72" y2="167.41" stroke="#222" stroke-width="0.9" stroke-linecap="butt"/>
<circle cx="457.52" cy="173.51" r="0.6" fill="#222"/>
<circle cx="459.72" cy="173.11" r="0.6" fill="#222"/>
<rect x="455.77" y="243.66" width="5.5" height="8.39" fill="#c41f37" stroke="#b3142b" stroke-width="0.5"/>
<line x1="458.52" y1="244.41" x2="458.52" y2="242.61" stroke="#222" stroke-width="0.9" stroke-linecap="butt"/>
<line x1="457.32" y1="242.61" x2="459.72" y2="242.61" stroke="#222" stroke-width="0.9" stroke-linecap="butt"/>
<circle cx="457.52" cy="244.21" r="0.6" fill="#222"/>
<circle cx="459.72" cy="243.81" r="0.6" fill="#222"/>
<rect x="465.24" y="153.35" width="5.5" height="33.7" fill="#c41f37" stroke="#b3142b" stroke-width="0.5"/>
<line x1="467.99" y1="154.1" x2="467.99" y2="151.55" stroke="#222" stroke-width="0.9" stroke-linecap="butt"/>
<line x1="466.79" y1="151.55" x2="469.19" y2="151.55" stroke="#222" stroke-width="0.9" stroke-linecap="butt"/>
<circle cx="466.99" cy="153.9" r="0.6" fill="#222"/>
<circle cx="469.19" cy="153.5" r="0.6" fill="#222"/>
<rect x="465.24" y="203.36" width="5.5" height="48.69" fill="#c41f37" stroke="#b3142b" stroke-width="0.5"/>
<rect x="464.49" y="233.4" width="7" height="4.5" fill="#fff"/>
<rect x="464.49" y="215.4" width="7" height="3.7" fill="#fff"/>
<line x1="467.99" y1="204.11" x2="467.99" y2="201.71" stroke="#222" stroke-width="0.9" stroke-linecap="butt"/>
<line x1="466.79" y1="201.71" x2="469.19" y2="201.71" stroke="#222" stroke-width="0.9" stroke-linecap="butt"/>
<circle cx="466.99" cy="203.91" r="0.6" fill="#222"/>
<circle cx="469.19" cy="203.51" r="0.6" fill="#222"/>
<rect x="395.6" y="136.7" width="78.4" height="50.6" fill="none" stroke="#111" stroke-width="1"/>
<line x1="395.6" y1="193.8" x2="474" y2="193.8" stroke="#111" stroke-width="1" stroke-linecap="butt"/>
<line x1="474" y1="193.8" x2="474" y2="252.3" stroke="#111" stroke-width="1" stroke-linecap="butt"/>
<line x1="395.6" y1="252.3" x2="474.5" y2="252.3" stroke="#111" stroke-width="1" stroke-linecap="butt"/>
<line x1="395.8" y1="193.3" x2="395.8" y2="215.2" stroke="#111" stroke-width="1" stroke-linecap="butt"/>
<line x1="395.8" y1="219.3" x2="395.8" y2="233.2" stroke="#111" stroke-width="1" stroke-linecap="butt"/>
<line x1="395.8" y1="238.1" x2="395.8" y2="252.8" stroke="#111" stroke-width="1" stroke-linecap="butt"/>
<line x1="435.2" y1="136.7" x2="435.2" y2="187.3" stroke="#222" stroke-width="0.7" stroke-linecap="butt" stroke-dasharray="1.2,1.2"/>
<line x1="434.6" y1="193.8" x2="434.6" y2="252.3" stroke="#222" stroke-width="0.7" stroke-linecap="butt" stroke-dasharray="1.2,1.2"/>
<line x1="401.7" y1="187.3" x2="401.7" y2="189.5" stroke="#1a1a1a" stroke-width="0.8" stroke-linecap="butt"/>
<line x1="401.7" y1="252.3" x2="401.7" y2="254.5" stroke="#1a1a1a" stroke-width="0.8" stroke-linecap="butt"/>
<line x1="411.17" y1="187.3" x2="411.17" y2="189.5" stroke="#1a1a1a" stroke-width="0.8" stroke-linecap="butt"/>
<line x1="411.17" y1="252.3" x2="411.17" y2="254.5" stroke="#1a1a1a" stroke-width="0.8" stroke-linecap="butt"/>
<line x1="420.64" y1="187.3" x2="420.64" y2="189.5" stroke="#1a1a1a" stroke-width="0.8" stroke-linecap="butt"/>
<line x1="420.64" y1="252.3" x2="420.64" y2="254.5" stroke="#1a1a1a" stroke-width="0.8" stroke-linecap="butt"/>
<line x1="430.11" y1="187.3" x2="430.11" y2="189.5" stroke="#1a1a1a" stroke-width="0.8" stroke-linecap="butt"/>
<line x1="430.11" y1="252.3" x2="430.11" y2="254.5" stroke="#1a1a1a" stroke-width="0.8" stroke-linecap="butt"/>
<line x1="439.58" y1="187.3" x2="439.58" y2="189.5" stroke="#1a1a1a" stroke-width="0.8" stroke-linecap="butt"/>
<line x1="439.58" y1="252.3" x2="439.58" y2="254.5" stroke="#1a1a1a" stroke-width="0.8" stroke-linecap="butt"/>
<line x1="449.05" y1="187.3" x2="449.05" y2="189.5" stroke="#1a1a1a" stroke-width="0.8" stroke-linecap="butt"/>
<line x1="449.05" y1="252.3" x2="449.05" y2="254.5" stroke="#1a1a1a" stroke-width="0.8" stroke-linecap="butt"/>
<line x1="458.52" y1="187.3" x2="458.52" y2="189.5" stroke="#1a1a1a" stroke-width="0.8" stroke-linecap="butt"/>
<line x1="458.52" y1="252.3" x2="458.52" y2="254.5" stroke="#1a1a1a" stroke-width="0.8" stroke-linecap="butt"/>
<line x1="467.99" y1="187.3" x2="467.99" y2="189.5" stroke="#1a1a1a" stroke-width="0.8" stroke-linecap="butt"/>
<line x1="467.99" y1="252.3" x2="467.99" y2="254.5" stroke="#1a1a1a" stroke-width="0.8" stroke-linecap="butt"/>
<line x1="392.6" y1="187.3" x2="395.6" y2="187.3" stroke="#1a1a1a" stroke-width="0.9" stroke-linecap="butt"/>
<text x="390.4" y="189.3" font-size="5.6" text-anchor="end" fill="#231f20" stroke="#231f20" stroke-width="0.15">0</text>
<line x1="392.6" y1="174.73" x2="395.6" y2="174.73" stroke="#1a1a1a" stroke-width="0.9" stroke-linecap="butt"/>
<text x="390.4" y="176.73" font-size="5.6" text-anchor="end" fill="#231f20" stroke="#231f20" stroke-width="0.15">5</text>
<line x1="392.6" y1="162.15" x2="395.6" y2="162.15" stroke="#1a1a1a" stroke-width="0.9" stroke-linecap="butt"/>
<text x="390.4" y="164.15" font-size="5.6" text-anchor="end" fill="#231f20" stroke="#231f20" stroke-width="0.15">10</text>
<line x1="392.6" y1="149.57" x2="395.6" y2="149.57" stroke="#1a1a1a" stroke-width="0.9" stroke-linecap="butt"/>
<text x="390.4" y="151.57" font-size="5.6" text-anchor="end" fill="#231f20" stroke="#231f20" stroke-width="0.15">15</text>
<line x1="392.6" y1="137" x2="395.6" y2="137" stroke="#1a1a1a" stroke-width="0.9" stroke-linecap="butt"/>
<text x="390.4" y="139" font-size="5.6" text-anchor="end" fill="#231f20" stroke="#231f20" stroke-width="0.15">20</text>
<line x1="392.6" y1="194.2" x2="395.6" y2="194.2" stroke="#1a1a1a" stroke-width="0.9" stroke-linecap="butt"/>
<text x="390.4" y="196.2" font-size="5.6" text-anchor="end" fill="#231f20" stroke="#231f20" stroke-width="0.15">400</text>
<line x1="392.6" y1="200.9" x2="395.6" y2="200.9" stroke="#1a1a1a" stroke-width="0.9" stroke-linecap="butt"/>
<text x="390.4" y="202.9" font-size="5.6" text-anchor="end" fill="#231f20" stroke="#231f20" stroke-width="0.15">300</text>
<line x1="392.6" y1="207.6" x2="395.6" y2="207.6" stroke="#1a1a1a" stroke-width="0.9" stroke-linecap="butt"/>
<text x="390.4" y="209.6" font-size="5.6" text-anchor="end" fill="#231f20" stroke="#231f20" stroke-width="0.15">200</text>
<line x1="392.6" y1="214.3" x2="395.6" y2="214.3" stroke="#1a1a1a" stroke-width="0.9" stroke-linecap="butt"/>
<text x="390.4" y="216.3" font-size="5.6" text-anchor="end" fill="#231f20" stroke="#231f20" stroke-width="0.15">100</text>
<line x1="392.6" y1="219.3" x2="395.6" y2="219.3" stroke="#1a1a1a" stroke-width="0.9" stroke-linecap="butt"/>
<text x="390.4" y="221.3" font-size="5.6" text-anchor="end" fill="#231f20" stroke="#231f20" stroke-width="0.15">80</text>
<line x1="392.6" y1="224.85" x2="395.6" y2="224.85" stroke="#1a1a1a" stroke-width="0.9" stroke-linecap="butt"/>
<text x="390.4" y="226.85" font-size="5.6" text-anchor="end" fill="#231f20" stroke="#231f20" stroke-width="0.15">60</text>
<line x1="392.6" y1="230.4" x2="395.6" y2="230.4" stroke="#1a1a1a" stroke-width="0.9" stroke-linecap="butt"/>
<text x="390.4" y="232.4" font-size="5.6" text-anchor="end" fill="#231f20" stroke="#231f20" stroke-width="0.15">40</text>
<line x1="392.6" y1="241.5" x2="395.6" y2="241.5" stroke="#1a1a1a" stroke-width="0.9" stroke-linecap="butt"/>
<text x="390.4" y="243.5" font-size="5.6" text-anchor="end" fill="#231f20" stroke="#231f20" stroke-width="0.15">20</text>
<line x1="392.6" y1="252.4" x2="395.6" y2="252.4" stroke="#1a1a1a" stroke-width="0.9" stroke-linecap="butt"/>
<text x="390.4" y="254.4" font-size="5.6" text-anchor="end" fill="#231f20" stroke="#231f20" stroke-width="0.15">0</text>
<text x="411.7" y="130.6" font-size="6.5" text-anchor="middle" fill="#333" stroke="#333" stroke-width="0.05" textLength="6.5" lengthAdjust="spacingAndGlyphs">TF</text>
<text x="451.2" y="130.6" font-size="6.5" text-anchor="middle" fill="#333" stroke="#333" stroke-width="0.05" textLength="22.4" lengthAdjust="spacingAndGlyphs">CXCL8</text>
<text x="366.2" y="195.8" font-size="6.2" text-anchor="middle" fill="#3a3a3a" stroke="#3a3a3a" stroke-width="0.06" textLength="96" lengthAdjust="spacingAndGlyphs" transform="rotate(-90 366.2 195.8)">mRNA expression (fold change)</text>
<line x1="368.8" y1="147" x2="368.8" y2="244" stroke="#222" stroke-width="0.9" stroke-linecap="butt"/>
<text x="377.4" y="165.5" font-size="6.2" text-anchor="middle" fill="#231f20" stroke="#231f20" stroke-width="0.15" textLength="21.5" lengthAdjust="spacingAndGlyphs" transform="rotate(-90 377.4 165.5)">HUVEC</text>
<text x="378" y="221.9" font-size="6.7" text-anchor="middle" fill="#231f20" stroke="#231f20" stroke-width="0.15" textLength="30.2" lengthAdjust="spacingAndGlyphs" transform="rotate(-90 378 221.9)">EA. hy926</text>
<line x1="411.3" y1="158.9" x2="428.9" y2="158.9" stroke="#333" stroke-width="1.1" stroke-linecap="butt"/>
<line x1="411.3" y1="157.9" x2="411.3" y2="159.9" stroke="#333" stroke-width="0.8" stroke-linecap="butt"/>
<line x1="428.9" y1="157.9" x2="428.9" y2="159.9" stroke="#333" stroke-width="0.8" stroke-linecap="butt"/>
<circle cx="418.8" cy="155.7" r="0.95" fill="#222"/>
<circle cx="421.6" cy="155.7" r="0.95" fill="#222"/>
<line x1="439" y1="165.1" x2="457.7" y2="165.1" stroke="#333" stroke-width="1.1" stroke-linecap="butt"/>
<line x1="439" y1="164.1" x2="439" y2="166.1" stroke="#333" stroke-width="0.8" stroke-linecap="butt"/>
<line x1="457.7" y1="164.1" x2="457.7" y2="166.1" stroke="#333" stroke-width="0.8" stroke-linecap="butt"/>
<circle cx="444.4" cy="161.6" r="0.95" fill="#222"/>
<circle cx="447" cy="161.6" r="0.95" fill="#222"/>
<circle cx="449.6" cy="161.6" r="0.95" fill="#222"/>
<circle cx="452.2" cy="161.6" r="0.95" fill="#222"/>
<line x1="446.7" y1="147" x2="466.3" y2="147" stroke="#333" stroke-width="1.1" stroke-linecap="butt"/>
<line x1="446.7" y1="146" x2="446.7" y2="148" stroke="#333" stroke-width="0.8" stroke-linecap="butt"/>
<line x1="466.3" y1="146" x2="466.3" y2="148" stroke="#333" stroke-width="0.8" stroke-linecap="butt"/>
<circle cx="452.6" cy="143.7" r="0.95" fill="#222"/>
<circle cx="455.2" cy="143.7" r="0.95" fill="#222"/>
<circle cx="457.8" cy="143.7" r="0.95" fill="#222"/>
<circle cx="460.4" cy="143.7" r="0.95" fill="#222"/>
<line x1="411.5" y1="234.2" x2="430.5" y2="234.2" stroke="#333" stroke-width="1.1" stroke-linecap="butt"/>
<line x1="411.5" y1="233.2" x2="411.5" y2="235.2" stroke="#333" stroke-width="0.8" stroke-linecap="butt"/>
<line x1="430.5" y1="233.2" x2="430.5" y2="235.2" stroke="#333" stroke-width="0.8" stroke-linecap="butt"/>
<circle cx="419.1" cy="230.9" r="0.95" fill="#222"/>
<circle cx="421.9" cy="230.9" r="0.95" fill="#222"/>
<line x1="438.6" y1="220.9" x2="450.1" y2="220.9" stroke="#333" stroke-width="1.1" stroke-linecap="butt"/>
<line x1="438.6" y1="219.9" x2="438.6" y2="221.9" stroke="#333" stroke-width="0.8" stroke-linecap="butt"/>
<line x1="450.1" y1="219.9" x2="450.1" y2="221.9" stroke="#333" stroke-width="0.8" stroke-linecap="butt"/>
<circle cx="440.5" cy="217.5" r="0.95" fill="#222"/>
<circle cx="443.1" cy="217.5" r="0.95" fill="#222"/>
<circle cx="445.7" cy="217.5" r="0.95" fill="#222"/>
<circle cx="448.3" cy="217.5" r="0.95" fill="#222"/>
<line x1="447.1" y1="200.7" x2="468.7" y2="200.7" stroke="#333" stroke-width="1.1" stroke-linecap="butt"/>
<line x1="447.1" y1="199.7" x2="447.1" y2="201.7" stroke="#333" stroke-width="0.8" stroke-linecap="butt"/>
<line x1="468.7" y1="199.7" x2="468.7" y2="201.7" stroke="#333" stroke-width="0.8" stroke-linecap="butt"/>
<circle cx="454" cy="196.8" r="0.95" fill="#222"/>
<circle cx="456.6" cy="196.8" r="0.95" fill="#222"/>
<circle cx="459.2" cy="196.8" r="0.95" fill="#222"/>
<circle cx="461.8" cy="196.8" r="0.95" fill="#222"/>
<text x="403.7" y="260" font-size="6" text-anchor="end" fill="#333" stroke="#333" stroke-width="0.06" textLength="18.37" lengthAdjust="spacingAndGlyphs" transform="rotate(-45 403.7 260)">Control</text>
<text x="413.17" y="260" font-size="6" text-anchor="end" fill="#333" stroke="#333" stroke-width="0.06" textLength="23.75" lengthAdjust="spacingAndGlyphs" transform="rotate(-45 413.17 260)">Poly (I:C)</text>
<text x="422.64" y="260" font-size="6" text-anchor="end" fill="#333" stroke="#333" stroke-width="0.06" textLength="24.07" lengthAdjust="spacingAndGlyphs" transform="rotate(-45 422.64 260)">Thrombin</text>
<text x="432.11" y="260" font-size="6" text-anchor="end" fill="#333" stroke="#333" stroke-width="0.06" textLength="51.15" lengthAdjust="spacingAndGlyphs" transform="rotate(-45 432.11 260)">Poly (I:C)+Thrombin</text>
<text x="441.58" y="260" font-size="6" text-anchor="end" fill="#333" stroke="#333" stroke-width="0.06" textLength="18.37" lengthAdjust="spacingAndGlyphs" transform="rotate(-45 441.58 260)">Control</text>
<text x="451.05" y="260" font-size="6" text-anchor="end" fill="#333" stroke="#333" stroke-width="0.06" textLength="23.75" lengthAdjust="spacingAndGlyphs" transform="rotate(-45 451.05 260)">Poly (I:C)</text>
<text x="460.52" y="260" font-size="6" text-anchor="end" fill="#333" stroke="#333" stroke-width="0.06" textLength="24.07" lengthAdjust="spacingAndGlyphs" transform="rotate(-45 460.52 260)">Thrombin</text>
<text x="469.99" y="260" font-size="6" text-anchor="end" fill="#333" stroke="#333" stroke-width="0.06" textLength="51.15" lengthAdjust="spacingAndGlyphs" transform="rotate(-45 469.99 260)">Poly (I:C)+Thrombin</text>
<rect x="0.5" y="0.5" width="519" height="323" fill="none" stroke="#000" stroke-width="1"/>
<line x1="518.5" y1="1" x2="518.5" y2="323" stroke="#000" stroke-opacity="0.2" stroke-width="1"/>
<line x1="1" y1="322.5" x2="518" y2="322.5" stroke="#000" stroke-opacity="0.2" stroke-width="1"/>
</svg>
</body></html>
